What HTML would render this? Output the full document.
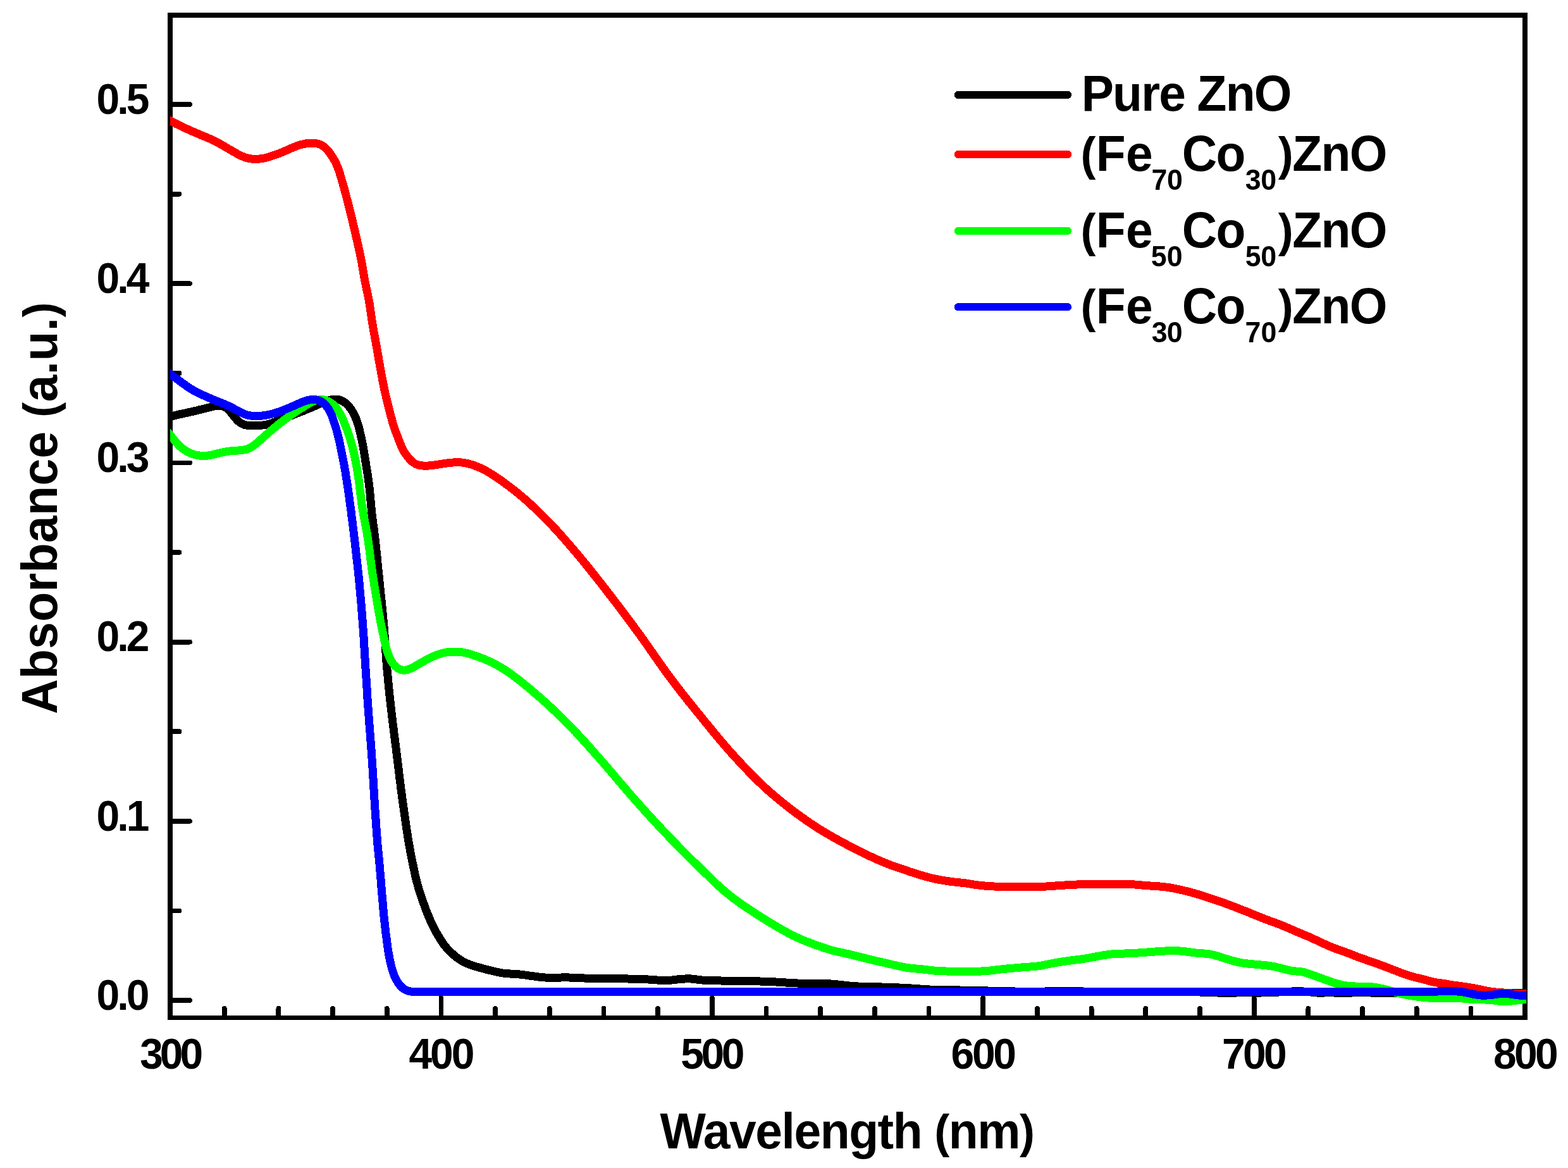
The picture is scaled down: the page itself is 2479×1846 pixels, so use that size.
<!DOCTYPE html>
<html lang="en"><head><meta charset="utf-8"><title>UV-Vis absorbance spectra</title>
<style>html,body{margin:0;padding:0;background:#fff;}body{width:2479px;height:1846px;overflow:hidden;}svg{display:block;}text{font-family:'Liberation Sans', Arial, Helvetica, sans-serif;fill:#000;}</style>
</head><body>
<svg xmlns="http://www.w3.org/2000/svg" width="2479" height="1846" viewBox="0 0 2479 1846">
<rect x="0" y="0" width="2479" height="1846" fill="#fff"/>
<g id="axes" stroke="#000" fill="none" stroke-width="7.6" shape-rendering="crispEdges">
<rect x="269.0" y="24.0" width="2142.10" height="1584.40" stroke-linejoin="miter"/>
</g>
<g id="ticks" stroke="#000" stroke-width="7.8" stroke-linecap="round" shape-rendering="crispEdges">
<line x1="354.68" y1="1606.9" x2="354.68" y2="1593.90"/>
<line x1="440.37" y1="1606.9" x2="440.37" y2="1593.90"/>
<line x1="526.05" y1="1606.9" x2="526.05" y2="1593.90"/>
<line x1="611.74" y1="1606.9" x2="611.74" y2="1593.90"/>
<line x1="697.42" y1="1606.9" x2="697.42" y2="1577.40"/>
<line x1="783.10" y1="1606.9" x2="783.10" y2="1593.90"/>
<line x1="868.79" y1="1606.9" x2="868.79" y2="1593.90"/>
<line x1="954.47" y1="1606.9" x2="954.47" y2="1593.90"/>
<line x1="1040.16" y1="1606.9" x2="1040.16" y2="1593.90"/>
<line x1="1125.84" y1="1606.9" x2="1125.84" y2="1577.40"/>
<line x1="1211.52" y1="1606.9" x2="1211.52" y2="1593.90"/>
<line x1="1297.21" y1="1606.9" x2="1297.21" y2="1593.90"/>
<line x1="1382.89" y1="1606.9" x2="1382.89" y2="1593.90"/>
<line x1="1468.58" y1="1606.9" x2="1468.58" y2="1593.90"/>
<line x1="1554.26" y1="1606.9" x2="1554.26" y2="1577.40"/>
<line x1="1639.94" y1="1606.9" x2="1639.94" y2="1593.90"/>
<line x1="1725.63" y1="1606.9" x2="1725.63" y2="1593.90"/>
<line x1="1811.31" y1="1606.9" x2="1811.31" y2="1593.90"/>
<line x1="1897.00" y1="1606.9" x2="1897.00" y2="1593.90"/>
<line x1="1982.68" y1="1606.9" x2="1982.68" y2="1577.40"/>
<line x1="2068.36" y1="1606.9" x2="2068.36" y2="1593.90"/>
<line x1="2154.05" y1="1606.9" x2="2154.05" y2="1593.90"/>
<line x1="2239.73" y1="1606.9" x2="2239.73" y2="1593.90"/>
<line x1="2325.42" y1="1606.9" x2="2325.42" y2="1593.90"/>
<line x1="270.5" y1="1581.00" x2="300.00" y2="1581.00"/>
<line x1="270.5" y1="1439.40" x2="283.50" y2="1439.40"/>
<line x1="270.5" y1="1297.80" x2="300.00" y2="1297.80"/>
<line x1="270.5" y1="1156.20" x2="283.50" y2="1156.20"/>
<line x1="270.5" y1="1014.60" x2="300.00" y2="1014.60"/>
<line x1="270.5" y1="873.00" x2="283.50" y2="873.00"/>
<line x1="270.5" y1="731.40" x2="300.00" y2="731.40"/>
<line x1="270.5" y1="589.80" x2="283.50" y2="589.80"/>
<line x1="270.5" y1="448.20" x2="300.00" y2="448.20"/>
<line x1="270.5" y1="306.60" x2="283.50" y2="306.60"/>
<line x1="270.5" y1="165.00" x2="300.00" y2="165.00"/>
</g>
<clipPath id="plotclip"><rect x="269.0" y="24.0" width="2144.20" height="1588.40"/></clipPath>
<g id="curves" fill="none" stroke-width="13.0" stroke-linejoin="round" stroke-linecap="butt" clip-path="url(#plotclip)" shape-rendering="crispEdges">
<path d="M255.0,661.7 L258.5,660.9 L261.9,660.1 L265.2,659.3 L268.5,658.5 L271.7,657.7 L274.9,657.0 L278.0,656.3 L281.1,655.5 L284.1,654.8 L287.2,654.2 L290.2,653.5 L293.3,652.8 L296.3,652.2 L299.3,651.5 L302.4,650.8 L305.4,650.1 L308.5,649.4 L311.6,648.7 L314.6,647.9 L317.7,647.2 L320.8,646.4 L323.9,645.7 L327.0,644.9 L330.2,644.1 L333.4,643.2 L336.8,642.3 L340.2,641.6 L343.7,641.1 L347.1,641.0 L350.5,641.4 L353.8,642.5 L356.8,644.1 L359.5,646.1 L362.0,648.4 L364.2,650.8 L366.3,653.3 L368.3,655.8 L370.2,658.4 L372.3,660.9 L374.5,663.5 L377.1,665.9 L379.9,668.2 L383.1,670.0 L386.6,671.4 L390.3,672.2 L394.0,672.5 L397.8,672.6 L401.6,672.5 L405.3,672.4 L409.0,672.3 L412.6,672.2 L416.1,671.9 L419.5,671.5 L422.8,670.8 L425.9,669.9 L429.1,668.9 L432.2,667.7 L435.3,666.5 L438.4,665.3 L441.5,664.0 L444.6,662.8 L447.6,661.7 L450.6,660.5 L453.7,659.4 L456.7,658.2 L459.7,657.1 L462.7,655.9 L465.8,654.7 L468.8,653.5 L471.9,652.3 L474.9,651.1 L478.0,649.9 L481.1,648.7 L484.2,647.4 L487.3,646.2 L490.3,644.9 L493.3,643.7 L496.3,642.3 L499.3,641.0 L502.3,639.6 L505.4,638.1 L508.6,636.7 L511.9,635.4 L515.2,634.1 L518.4,633.0 L521.6,632.2 L524.7,631.5 L527.9,631.1 L531.0,631.1 L534.1,631.4 L537.2,632.1 L540.1,633.2 L542.9,634.7 L545.5,636.5 L547.9,638.4 L550.1,640.6 L552.2,643.0 L554.1,645.5 L555.9,648.2 L557.6,651.0 L559.2,654.0 L560.8,657.1 L562.2,660.2 L563.4,663.4 L564.6,666.4 L565.6,669.5 L566.5,672.6 L567.4,675.7 L568.2,678.9 L569.0,682.2 L569.7,685.4 L570.5,688.7 L571.2,692.0 L571.9,695.2 L572.5,698.4 L573.2,701.6 L573.8,704.7 L574.4,707.9 L574.9,710.9 L575.5,714.0 L576.0,717.1 L576.5,720.1 L576.9,723.2 L577.4,726.2 L577.9,729.3 L578.4,732.3 L578.9,735.3 L579.3,738.3 L579.8,741.3 L580.3,744.3 L580.8,747.2 L581.2,750.3 L581.7,753.3 L582.2,756.3 L582.6,759.4 L583.0,762.5 L583.4,765.6 L583.8,768.6 L584.2,771.7 L584.5,774.8 L584.8,777.8 L585.1,780.9 L585.4,784.1 L585.7,787.2 L585.9,790.4 L586.2,793.5 L586.5,796.6 L586.7,799.7 L587.0,802.7 L587.3,805.7 L587.6,808.7 L587.9,811.6 L588.2,814.6 L588.6,817.7 L589.0,820.7 L589.4,823.7 L589.8,826.8 L590.3,829.9 L590.7,833.0 L591.2,836.1 L591.5,839.1 L591.9,842.0 L592.2,844.7 L592.6,847.5 L592.9,850.2 L593.2,852.9 L593.5,855.7 L593.8,858.6 L594.1,861.6 L594.4,864.6 L594.7,867.7 L595.1,870.9 L595.4,874.1 L595.7,877.3 L596.1,880.5 L596.4,883.8 L596.7,887.0 L597.0,890.3 L597.4,893.6 L597.7,896.8 L598.0,900.0 L598.3,903.2 L598.7,906.3 L599.0,909.5 L599.3,912.5 L599.6,915.6 L599.9,918.6 L600.2,921.7 L600.6,924.7 L600.9,927.7 L601.2,930.8 L601.5,933.8 L601.8,936.8 L602.1,939.9 L602.5,942.9 L602.8,945.9 L603.1,948.9 L603.4,952.0 L603.7,955.0 L604.0,958.0 L604.3,961.1 L604.6,964.1 L604.9,967.1 L605.2,970.2 L605.5,973.2 L605.8,976.2 L606.0,979.2 L606.3,982.3 L606.6,985.3 L606.8,988.3 L607.1,991.4 L607.3,994.4 L607.6,997.5 L607.8,1000.5 L608.0,1003.6 L608.3,1006.6 L608.5,1009.7 L608.7,1012.8 L608.9,1015.8 L609.1,1018.9 L609.3,1021.9 L609.5,1025.0 L609.7,1028.0 L610.0,1031.1 L610.2,1034.1 L610.4,1037.1 L610.6,1040.1 L610.8,1043.1 L611.0,1046.1 L611.3,1049.1 L611.5,1052.1 L611.8,1055.1 L612.0,1058.1 L612.3,1061.2 L612.6,1064.3 L612.9,1067.4 L613.2,1070.5 L613.4,1073.6 L613.7,1076.7 L614.0,1079.8 L614.3,1082.9 L614.6,1085.9 L615.0,1089.0 L615.3,1092.0 L615.6,1095.1 L615.9,1098.1 L616.2,1101.2 L616.6,1104.3 L616.9,1107.4 L617.2,1110.5 L617.6,1113.6 L617.9,1116.7 L618.3,1119.8 L618.6,1122.8 L619.0,1125.8 L619.3,1128.8 L619.7,1131.8 L620.0,1134.8 L620.4,1137.8 L620.8,1140.8 L621.1,1143.8 L621.5,1146.8 L621.9,1149.9 L622.3,1152.9 L622.7,1156.0 L623.0,1159.0 L623.4,1162.1 L623.8,1165.1 L624.2,1168.2 L624.6,1171.3 L625.0,1174.3 L625.4,1177.4 L625.8,1180.4 L626.2,1183.5 L626.5,1186.5 L626.9,1189.6 L627.3,1192.6 L627.7,1195.6 L628.0,1198.7 L628.4,1201.7 L628.8,1204.7 L629.2,1207.7 L629.5,1210.8 L629.9,1213.8 L630.3,1216.8 L630.6,1219.9 L631.0,1222.9 L631.4,1225.9 L631.7,1229.0 L632.1,1232.0 L632.5,1235.0 L632.9,1238.0 L633.2,1241.1 L633.6,1244.1 L634.0,1247.1 L634.4,1250.2 L634.8,1253.2 L635.2,1256.2 L635.6,1259.3 L636.0,1262.3 L636.4,1265.4 L636.8,1268.5 L637.3,1271.6 L637.7,1274.8 L638.2,1278.0 L638.6,1281.2 L639.1,1284.5 L639.6,1287.8 L640.1,1291.1 L640.5,1294.4 L641.0,1297.7 L641.5,1300.9 L642.0,1304.2 L642.5,1307.4 L642.9,1310.5 L643.4,1313.6 L643.9,1316.7 L644.3,1319.6 L644.8,1322.5 L645.2,1325.3 L645.7,1328.0 L646.1,1330.7 L646.5,1333.3 L647.0,1336.0 L647.5,1338.8 L648.0,1341.8 L648.6,1344.7 L649.1,1347.8 L649.7,1350.8 L650.3,1353.8 L650.9,1356.8 L651.5,1359.7 L652.1,1362.7 L652.7,1365.6 L653.3,1368.5 L653.9,1371.5 L654.6,1374.5 L655.2,1377.6 L655.9,1380.7 L656.5,1383.8 L657.3,1386.9 L658.0,1390.0 L658.8,1393.1 L659.6,1396.1 L660.4,1399.2 L661.3,1402.3 L662.3,1405.5 L663.2,1408.6 L664.2,1411.7 L665.3,1414.8 L666.3,1417.9 L667.3,1420.9 L668.3,1423.8 L669.3,1426.7 L670.4,1429.6 L671.4,1432.5 L672.5,1435.5 L673.7,1438.5 L674.8,1441.4 L676.0,1444.4 L677.2,1447.3 L678.5,1450.3 L679.7,1453.3 L681.0,1456.2 L682.3,1459.2 L683.7,1462.2 L685.1,1465.1 L686.6,1468.0 L688.1,1470.8 L689.7,1473.6 L691.3,1476.3 L692.9,1478.9 L694.5,1481.6 L696.1,1484.2 L697.7,1486.8 L699.4,1489.4 L701.1,1492.0 L703.0,1494.5 L705.1,1497.0 L707.2,1499.5 L709.5,1501.9 L711.9,1504.3 L714.4,1506.6 L716.9,1508.9 L719.5,1511.1 L722.2,1513.2 L724.9,1515.1 L727.6,1517.0 L730.4,1518.7 L733.2,1520.2 L736.1,1521.7 L739.0,1523.0 L742.0,1524.2 L745.0,1525.3 L748.0,1526.3 L751.1,1527.3 L754.2,1528.2 L757.4,1529.1 L760.6,1530.0 L763.8,1530.8 L767.1,1531.7 L770.2,1532.5 L773.3,1533.3 L776.4,1534.0 L779.4,1534.8 L782.4,1535.5 L785.3,1536.2 L788.3,1536.8 L791.2,1537.4 L794.1,1537.9 L797.1,1538.3 L800.0,1538.6 L803.0,1538.8 L806.1,1539.0 L809.1,1539.2 L812.2,1539.3 L815.2,1539.5 L818.3,1539.8 L821.4,1540.0 L824.5,1540.3 L827.5,1540.7 L830.6,1541.1 L833.7,1541.5 L836.7,1542.0 L839.7,1542.4 L842.7,1542.8 L845.6,1543.2 L848.6,1543.6 L851.5,1544.0 L854.5,1544.3 L857.4,1544.6 L860.3,1544.9 L863.3,1545.1 L866.2,1545.2 L869.2,1545.3 L872.1,1545.3 L875.1,1545.3 L878.2,1545.2 L881.2,1545.1 L884.3,1545.0 L887.3,1545.0 L890.4,1544.9 L893.5,1544.9 L896.5,1544.9 L899.6,1545.0 L902.7,1545.1 L905.7,1545.2 L908.7,1545.4 L911.7,1545.5 L914.8,1545.6 L917.8,1545.8 L920.9,1545.9 L924.0,1546.0 L927.1,1546.1 L930.3,1546.2 L933.5,1546.3 L936.7,1546.4 L939.9,1546.4 L943.0,1546.4 L946.2,1546.3 L949.4,1546.3 L952.6,1546.2 L955.8,1546.1 L958.9,1546.1 L962.1,1546.1 L965.2,1546.1 L968.3,1546.1 L971.3,1546.2 L974.4,1546.3 L977.5,1546.4 L980.6,1546.5 L983.7,1546.6 L986.9,1546.7 L990.0,1546.9 L993.2,1547.0 L996.3,1547.1 L999.4,1547.2 L1002.6,1547.3 L1005.7,1547.4 L1008.9,1547.5 L1012.0,1547.5 L1015.1,1547.6 L1018.2,1547.7 L1021.3,1547.8 L1024.3,1548.0 L1027.4,1548.1 L1030.5,1548.3 L1033.7,1548.6 L1036.9,1548.8 L1040.2,1549.1 L1043.4,1549.4 L1046.6,1549.6 L1049.7,1549.7 L1052.8,1549.7 L1055.9,1549.5 L1059.0,1549.3 L1062.1,1549.0 L1065.2,1548.6 L1068.4,1548.3 L1071.6,1547.9 L1074.8,1547.6 L1078.0,1547.3 L1081.3,1547.1 L1084.5,1546.9 L1087.7,1546.9 L1090.8,1546.9 L1093.9,1547.1 L1096.9,1547.4 L1099.8,1547.8 L1102.8,1548.2 L1105.8,1548.6 L1108.8,1548.9 L1111.7,1549.2 L1114.8,1549.4 L1117.8,1549.5 L1120.9,1549.6 L1124.1,1549.7 L1127.3,1549.8 L1130.5,1549.8 L1133.7,1549.9 L1136.8,1549.9 L1139.9,1550.0 L1143.1,1550.0 L1146.2,1550.1 L1149.3,1550.2 L1152.5,1550.2 L1155.6,1550.3 L1158.8,1550.4 L1161.9,1550.4 L1165.0,1550.5 L1168.0,1550.5 L1171.1,1550.6 L1174.1,1550.6 L1177.2,1550.6 L1180.3,1550.6 L1183.4,1550.7 L1186.5,1550.7 L1189.7,1550.7 L1192.8,1550.8 L1196.0,1550.9 L1199.1,1550.9 L1202.2,1551.0 L1205.4,1551.1 L1208.5,1551.2 L1211.7,1551.3 L1214.8,1551.4 L1217.9,1551.6 L1221.0,1551.7 L1224.1,1551.9 L1227.1,1552.0 L1230.1,1552.2 L1233.2,1552.4 L1236.3,1552.6 L1239.4,1552.8 L1242.5,1553.0 L1245.6,1553.2 L1248.8,1553.5 L1251.9,1553.6 L1254.9,1553.8 L1258.0,1553.9 L1261.0,1554.0 L1264.0,1554.1 L1267.0,1554.1 L1270.1,1554.1 L1273.2,1554.1 L1276.4,1554.1 L1279.6,1554.1 L1282.8,1554.1 L1285.9,1554.1 L1289.0,1554.1 L1292.0,1554.2 L1295.1,1554.2 L1298.1,1554.3 L1301.1,1554.4 L1304.2,1554.5 L1307.4,1554.6 L1310.5,1554.8 L1313.7,1555.0 L1316.8,1555.2 L1319.9,1555.5 L1323.0,1555.8 L1326.1,1556.1 L1329.2,1556.5 L1332.4,1556.9 L1335.5,1557.2 L1338.7,1557.6 L1341.8,1557.9 L1344.9,1558.2 L1347.9,1558.5 L1350.9,1558.7 L1353.8,1558.8 L1356.7,1559.0 L1359.6,1559.1 L1362.6,1559.2 L1365.7,1559.3 L1368.8,1559.3 L1371.9,1559.4 L1375.1,1559.5 L1378.2,1559.6 L1381.4,1559.6 L1384.5,1559.7 L1387.6,1559.8 L1390.7,1559.9 L1393.7,1560.0 L1396.8,1560.1 L1399.9,1560.2 L1402.9,1560.3 L1406.0,1560.4 L1409.1,1560.5 L1412.1,1560.6 L1415.2,1560.7 L1418.2,1560.8 L1421.2,1561.0 L1424.2,1561.1 L1427.1,1561.2 L1430.1,1561.3 L1433.0,1561.5 L1436.0,1561.7 L1439.0,1561.9 L1442.0,1562.1 L1445.0,1562.3 L1448.1,1562.5 L1451.1,1562.8 L1454.1,1563.0 L1457.2,1563.2 L1460.3,1563.5 L1463.3,1563.7 L1466.4,1563.8 L1469.3,1564.0 L1472.2,1564.1 L1475.1,1564.2 L1477.9,1564.3 L1480.8,1564.4 L1483.8,1564.4 L1486.8,1564.5 L1489.9,1564.6 L1493.0,1564.6 L1496.1,1564.7 L1499.3,1564.7 L1502.4,1564.8 L1505.6,1564.8 L1508.8,1564.8 L1511.9,1564.9 L1515.1,1564.9 L1518.1,1565.0 L1521.2,1565.0 L1524.2,1565.1 L1527.3,1565.2 L1530.4,1565.2 L1533.5,1565.3 L1536.6,1565.4 L1539.7,1565.4 L1542.9,1565.5 L1546.0,1565.6 L1549.1,1565.7 L1552.2,1565.7 L1555.3,1565.8 L1558.4,1565.9 L1561.4,1566.0 L1564.5,1566.0 L1567.5,1566.1 L1570.6,1566.2 L1573.6,1566.3 L1576.7,1566.3 L1579.8,1566.4 L1583.0,1566.5 L1586.1,1566.5 L1589.3,1566.6 L1592.5,1566.7 L1595.7,1566.8 L1598.9,1566.8 L1602.1,1566.9 L1605.3,1567.0 L1608.5,1567.1 L1611.6,1567.1 L1614.7,1567.2 L1617.8,1567.2 L1620.9,1567.2 L1624.1,1567.3 L1627.2,1567.3 L1630.4,1567.3 L1633.6,1567.3 L1636.8,1567.2 L1640.0,1567.2 L1643.2,1567.1 L1646.4,1567.1 L1649.5,1567.0 L1652.7,1567.0 L1655.8,1566.9 L1659.0,1566.9 L1662.2,1566.8 L1665.3,1566.8 L1668.6,1566.8 L1671.8,1566.8 L1675.0,1566.8 L1678.3,1566.7 L1681.5,1566.7 L1684.7,1566.7 L1687.9,1566.7 L1691.1,1566.7 L1694.3,1566.7 L1697.5,1566.8 L1700.6,1566.8 L1703.7,1566.8 L1706.7,1566.9 L1709.7,1566.9 L1712.7,1567.0 L1715.7,1567.1 L1718.9,1567.2 L1722.0,1567.3 L1725.2,1567.3 L1728.4,1567.4 L1731.4,1567.5 L1734.2,1567.5 L1736.7,1567.5 L1739.2,1567.6 L1741.5,1567.6 L1743.9,1567.6 L1746.4,1567.6 L1749.0,1567.6 L1751.7,1567.6 L1754.5,1567.7 L1757.4,1567.7 L1760.4,1567.7 L1763.5,1567.7 L1766.7,1567.7 L1769.9,1567.7 L1773.2,1567.7 L1776.6,1567.7 L1780.0,1567.7 L1783.5,1567.7 L1787.0,1567.7 L1790.6,1567.7 L1794.2,1567.7 L1797.8,1567.8 L1801.5,1567.8 L1805.1,1567.8 L1808.8,1567.8 L1812.5,1567.8 L1816.2,1567.8 L1819.9,1567.8 L1823.6,1567.8 L1827.3,1567.8 L1831.0,1567.8 L1834.6,1567.8 L1838.3,1567.8 L1841.8,1567.8 L1845.4,1567.8 L1848.9,1567.8 L1852.3,1567.8 L1855.7,1567.8 L1859.1,1567.8 L1862.3,1567.8 L1865.5,1567.8 L1868.6,1567.8 L1871.7,1567.8 L1874.6,1567.8 L1877.5,1567.8 L1880.2,1567.9 L1882.9,1567.9 L1885.4,1567.9 L1887.8,1567.9 L1890.1,1567.9 L1892.3,1567.9 L1894.5,1567.9 L1896.7,1568.0 L1899.1,1568.0 L1901.7,1568.0 L1904.7,1568.1 L1907.7,1568.1 L1910.8,1568.2 L1914.0,1568.3 L1917.1,1568.5 L1920.3,1568.6 L1923.5,1568.8 L1926.7,1569.1 L1930.0,1569.3 L1933.3,1569.5 L1936.7,1569.7 L1940.0,1569.7 L1943.3,1569.6 L1946.6,1569.5 L1949.9,1569.3 L1953.2,1569.1 L1956.5,1568.9 L1959.7,1568.7 L1962.9,1568.6 L1966.1,1568.6 L1969.2,1568.7 L1972.4,1568.8 L1975.5,1568.9 L1978.7,1569.0 L1981.8,1569.1 L1985.0,1569.1 L1988.2,1569.1 L1991.3,1569.1 L1994.5,1569.0 L1997.6,1568.9 L2000.8,1568.8 L2003.9,1568.7 L2007.1,1568.6 L2010.3,1568.5 L2013.5,1568.3 L2016.7,1568.2 L2020.0,1568.1 L2023.3,1567.9 L2026.5,1567.8 L2029.8,1567.6 L2033.0,1567.5 L2036.3,1567.3 L2039.5,1567.2 L2042.7,1567.0 L2045.8,1566.9 L2049.0,1566.8 L2052.1,1566.8 L2055.1,1566.8 L2058.1,1566.9 L2061.2,1567.0 L2064.1,1567.2 L2067.1,1567.4 L2070.1,1567.7 L2073.0,1568.1 L2076.0,1568.4 L2079.0,1568.7 L2082.0,1569.0 L2084.9,1569.1 L2087.9,1569.2 L2090.9,1569.1 L2093.8,1569.0 L2096.9,1568.8 L2099.9,1568.8 L2102.9,1568.8 L2106.0,1568.8 L2109.2,1569.0 L2112.3,1569.1 L2115.5,1569.3 L2118.7,1569.5 L2121.9,1569.6 L2125.1,1569.6 L2128.4,1569.5 L2131.6,1569.4 L2134.9,1569.2 L2138.1,1569.0 L2141.4,1568.8 L2144.6,1568.7 L2147.8,1568.6 L2151.0,1568.6 L2154.2,1568.6 L2157.4,1568.7 L2160.6,1568.8 L2163.9,1568.9 L2167.2,1569.0 L2170.5,1569.2 L2173.7,1569.3 L2176.9,1569.4 L2180.1,1569.5 L2183.3,1569.6 L2186.5,1569.7 L2189.6,1569.8 L2192.7,1569.9 L2195.8,1569.9 L2198.8,1569.9 L2201.9,1569.9 L2204.8,1569.9 L2207.7,1569.8 L2210.6,1569.7 L2213.5,1569.5 L2216.5,1569.3 L2219.5,1569.1 L2222.5,1568.9 L2225.6,1568.7 L2228.5,1568.6 L2231.1,1568.5 L2233.6,1568.4 L2235.9,1568.4 L2238.1,1568.3 L2240.4,1568.3 L2242.8,1568.3 L2245.4,1568.3 L2248.0,1568.2 L2250.8,1568.2 L2253.6,1568.2 L2256.5,1568.2 L2259.5,1568.2 L2262.6,1568.2 L2265.8,1568.2 L2269.1,1568.2 L2272.4,1568.2 L2275.7,1568.2 L2279.2,1568.2 L2282.6,1568.2 L2286.2,1568.2 L2289.7,1568.2 L2293.3,1568.2 L2296.9,1568.2 L2300.5,1568.3 L2304.2,1568.3 L2307.9,1568.3 L2311.5,1568.3 L2315.2,1568.3 L2318.8,1568.4 L2322.5,1568.4 L2326.1,1568.4 L2329.7,1568.4 L2333.3,1568.5 L2336.8,1568.5 L2340.3,1568.5 L2343.7,1568.6 L2347.1,1568.6 L2350.5,1568.6 L2353.8,1568.7 L2357.0,1568.7 L2360.1,1568.7 L2363.2,1568.8 L2366.1,1568.8 L2369.0,1568.8 L2371.8,1568.9 L2374.5,1568.9 L2377.1,1569.0 L2379.6,1569.0 L2381.9,1569.0 L2384.1,1569.1 L2386.3,1569.1 L2388.6,1569.1 L2391.0,1569.2 L2393.7,1569.3 L2396.6,1569.3 L2399.7,1569.4 L2402.7,1569.5 L2405.8,1569.7 L2408.8,1569.8 L2411.7,1569.9 L2414.7,1570.0 L2417.7,1570.1 L2420.8,1570.2 L2424.0,1570.4" stroke="#000000"/>
<path d="M255.0,183.8 L257.8,185.2 L260.6,186.6 L263.3,188.0 L266.2,189.5 L269.0,190.9 L271.9,192.4 L274.9,193.9 L277.8,195.4 L280.9,196.9 L283.9,198.4 L286.9,199.9 L290.0,201.3 L293.0,202.7 L296.1,204.1 L299.1,205.4 L302.2,206.8 L305.3,208.1 L308.4,209.5 L311.4,210.8 L314.5,212.1 L317.5,213.3 L320.5,214.6 L323.5,215.8 L326.4,217.0 L329.3,218.3 L332.2,219.5 L335.1,220.8 L337.9,222.2 L340.7,223.6 L343.4,225.0 L346.2,226.5 L348.8,228.0 L351.5,229.5 L354.1,231.0 L356.7,232.5 L359.3,234.0 L362.0,235.6 L364.6,237.1 L367.3,238.7 L370.0,240.3 L372.7,241.8 L375.5,243.3 L378.2,244.8 L381.0,246.1 L383.9,247.4 L386.8,248.5 L389.8,249.5 L392.8,250.3 L395.9,250.8 L399.1,251.2 L402.4,251.3 L405.7,251.4 L409.2,251.2 L412.7,250.8 L416.2,250.3 L419.7,249.5 L423.1,248.6 L426.4,247.5 L429.6,246.5 L432.7,245.5 L435.7,244.5 L438.6,243.5 L441.6,242.4 L444.6,241.2 L447.6,239.9 L450.7,238.6 L453.7,237.2 L456.7,235.9 L459.7,234.6 L462.7,233.3 L465.7,232.0 L468.7,230.9 L471.8,229.8 L474.9,228.8 L478.2,228.0 L481.5,227.3 L484.8,226.7 L488.0,226.3 L491.1,226.0 L494.2,226.0 L497.2,226.2 L500.2,226.7 L503.1,227.4 L506.0,228.4 L508.8,229.8 L511.5,231.4 L514.0,233.4 L516.5,235.8 L518.7,238.3 L520.8,241.0 L522.7,243.7 L524.5,246.3 L526.1,249.0 L527.7,251.6 L529.2,254.3 L530.6,257.0 L531.9,259.8 L533.1,262.6 L534.3,265.4 L535.3,268.3 L536.3,271.2 L537.3,274.2 L538.2,277.3 L539.1,280.4 L540.0,283.5 L540.9,286.5 L541.8,289.4 L542.6,292.3 L543.4,295.1 L544.2,297.9 L544.9,300.8 L545.7,303.7 L546.5,306.6 L547.3,309.7 L548.1,312.7 L548.9,315.9 L549.7,319.0 L550.6,322.2 L551.4,325.4 L552.2,328.6 L553.0,331.8 L553.8,335.0 L554.6,338.2 L555.3,341.3 L556.1,344.4 L556.8,347.5 L557.6,350.5 L558.3,353.6 L559.0,356.8 L559.8,359.9 L560.5,363.2 L561.3,366.4 L562.1,369.7 L562.8,372.9 L563.6,376.2 L564.3,379.5 L565.0,382.7 L565.8,385.9 L566.5,389.1 L567.2,392.2 L567.8,395.2 L568.5,398.2 L569.1,401.1 L569.7,403.9 L570.3,406.6 L570.8,409.4 L571.4,412.2 L571.9,415.1 L572.5,418.1 L573.0,421.2 L573.5,424.4 L574.0,427.5 L574.5,430.6 L575.0,433.7 L575.5,436.7 L576.0,439.7 L576.6,442.7 L577.2,445.7 L577.8,448.7 L578.4,451.7 L579.1,454.7 L579.8,457.8 L580.4,460.9 L581.1,464.0 L581.7,467.1 L582.4,470.1 L583.0,473.2 L583.5,476.3 L584.1,479.3 L584.6,482.3 L585.0,485.4 L585.5,488.4 L585.9,491.4 L586.4,494.4 L586.8,497.5 L587.2,500.5 L587.6,503.5 L588.1,506.6 L588.6,509.6 L589.0,512.6 L589.5,515.6 L590.1,518.7 L590.6,521.7 L591.1,524.7 L591.7,527.8 L592.3,530.8 L592.8,533.8 L593.4,536.9 L593.9,539.9 L594.5,542.9 L595.0,546.0 L595.6,549.0 L596.1,552.0 L596.6,555.1 L597.2,558.1 L597.7,561.1 L598.2,564.1 L598.7,567.2 L599.2,570.2 L599.8,573.2 L600.3,576.2 L600.8,579.3 L601.4,582.3 L601.9,585.3 L602.5,588.3 L603.0,591.4 L603.6,594.4 L604.1,597.4 L604.7,600.4 L605.3,603.5 L605.9,606.5 L606.5,609.5 L607.1,612.5 L607.7,615.6 L608.4,618.6 L609.1,621.7 L609.8,624.8 L610.5,627.9 L611.2,631.0 L612.0,634.2 L612.8,637.3 L613.6,640.5 L614.4,643.5 L615.1,646.6 L615.9,649.5 L616.7,652.5 L617.4,655.4 L618.2,658.3 L619.0,661.3 L619.8,664.3 L620.6,667.3 L621.5,670.3 L622.4,673.2 L623.4,676.2 L624.4,679.2 L625.5,682.2 L626.7,685.2 L627.9,688.2 L629.0,691.2 L630.2,694.3 L631.4,697.3 L632.6,700.4 L633.8,703.5 L635.0,706.5 L636.4,709.4 L637.9,712.2 L639.5,715.0 L641.3,717.6 L643.2,720.2 L645.2,722.7 L647.3,725.2 L649.5,727.5 L651.8,729.7 L654.3,731.6 L657.1,733.2 L660.1,734.5 L663.2,735.3 L666.5,735.8 L669.7,736.1 L672.9,736.1 L676.0,736.1 L679.1,735.9 L682.2,735.6 L685.2,735.3 L688.3,734.8 L691.3,734.4 L694.4,733.9 L697.4,733.4 L700.4,732.9 L703.5,732.4 L706.6,732.0 L709.7,731.6 L712.8,731.3 L716.0,731.0 L719.2,730.8 L722.4,730.7 L725.6,730.7 L728.8,730.9 L731.9,731.2 L734.8,731.6 L737.8,732.2 L740.8,732.9 L743.8,733.8 L746.9,734.7 L750.1,735.8 L753.3,737.0 L756.3,738.2 L759.3,739.5 L762.1,740.8 L764.8,742.1 L767.4,743.5 L770.0,745.0 L772.6,746.5 L775.2,748.1 L777.9,749.7 L780.5,751.4 L783.2,753.2 L785.9,755.0 L788.6,756.9 L791.3,758.8 L794.1,760.7 L796.8,762.6 L799.4,764.6 L802.1,766.6 L804.7,768.5 L807.3,770.5 L809.8,772.4 L812.2,774.3 L814.6,776.2 L817.0,778.1 L819.3,780.0 L821.6,781.9 L823.9,783.8 L826.2,785.8 L828.5,787.7 L830.8,789.7 L833.1,791.7 L835.3,793.8 L837.6,795.8 L839.9,797.9 L842.1,800.0 L844.4,802.1 L846.6,804.2 L848.9,806.4 L851.1,808.5 L853.3,810.7 L855.5,812.8 L857.7,815.0 L859.9,817.2 L862.1,819.3 L864.2,821.5 L866.4,823.7 L868.5,825.9 L870.6,828.1 L872.7,830.4 L874.8,832.6 L876.9,834.9 L879.0,837.1 L881.1,839.4 L883.2,841.7 L885.3,844.0 L887.3,846.4 L889.4,848.7 L891.5,851.1 L893.6,853.4 L895.6,855.8 L897.7,858.2 L899.7,860.5 L901.8,862.9 L903.8,865.3 L905.9,867.7 L907.9,870.1 L909.9,872.4 L911.9,874.8 L913.9,877.1 L915.8,879.5 L917.8,881.8 L919.7,884.1 L921.7,886.5 L923.6,888.8 L925.5,891.2 L927.5,893.6 L929.4,896.0 L931.3,898.4 L933.2,900.8 L935.2,903.2 L937.1,905.6 L939.0,908.0 L940.9,910.4 L942.8,912.8 L944.7,915.3 L946.7,917.7 L948.6,920.1 L950.5,922.6 L952.4,925.0 L954.3,927.5 L956.2,929.9 L958.1,932.3 L960.0,934.8 L961.9,937.2 L963.7,939.6 L965.6,942.0 L967.5,944.5 L969.3,946.9 L971.2,949.3 L973.1,951.8 L974.9,954.2 L976.8,956.6 L978.6,959.1 L980.5,961.5 L982.3,964.0 L984.2,966.4 L986.0,968.9 L987.9,971.4 L989.7,973.8 L991.6,976.3 L993.4,978.8 L995.3,981.3 L997.1,983.7 L999.0,986.2 L1000.8,988.7 L1002.6,991.2 L1004.5,993.7 L1006.3,996.2 L1008.1,998.7 L1010.0,1001.2 L1011.8,1003.7 L1013.6,1006.2 L1015.4,1008.7 L1017.2,1011.2 L1019.0,1013.7 L1020.7,1016.2 L1022.5,1018.7 L1024.3,1021.3 L1026.1,1023.8 L1027.9,1026.4 L1029.6,1028.9 L1031.4,1031.4 L1033.2,1034.0 L1035.0,1036.5 L1036.7,1039.1 L1038.5,1041.6 L1040.3,1044.2 L1042.1,1046.7 L1043.8,1049.2 L1045.6,1051.8 L1047.4,1054.3 L1049.2,1056.8 L1051.0,1059.3 L1052.8,1061.8 L1054.6,1064.2 L1056.4,1066.7 L1058.2,1069.2 L1060.1,1071.7 L1061.9,1074.1 L1063.8,1076.6 L1065.7,1079.1 L1067.6,1081.6 L1069.5,1084.1 L1071.4,1086.6 L1073.3,1089.0 L1075.2,1091.5 L1077.2,1094.0 L1079.1,1096.4 L1081.0,1098.8 L1082.9,1101.3 L1084.8,1103.7 L1086.8,1106.1 L1088.7,1108.6 L1090.6,1111.0 L1092.6,1113.4 L1094.5,1115.8 L1096.4,1118.2 L1098.4,1120.6 L1100.3,1123.0 L1102.2,1125.4 L1104.2,1127.7 L1106.1,1130.1 L1108.1,1132.5 L1110.0,1134.9 L1112.0,1137.3 L1114.0,1139.8 L1115.9,1142.2 L1117.9,1144.6 L1119.9,1147.0 L1121.8,1149.4 L1123.8,1151.8 L1125.8,1154.2 L1127.7,1156.6 L1129.7,1159.0 L1131.7,1161.4 L1133.7,1163.8 L1135.6,1166.1 L1137.6,1168.5 L1139.6,1170.9 L1141.6,1173.2 L1143.6,1175.6 L1145.6,1177.9 L1147.7,1180.3 L1149.7,1182.6 L1151.7,1184.9 L1153.8,1187.3 L1155.8,1189.6 L1157.9,1191.9 L1160.0,1194.1 L1162.0,1196.4 L1164.0,1198.6 L1166.1,1200.8 L1168.1,1203.0 L1170.2,1205.2 L1172.2,1207.4 L1174.3,1209.6 L1176.3,1211.8 L1178.4,1214.0 L1180.4,1216.1 L1182.5,1218.3 L1184.6,1220.5 L1186.7,1222.6 L1188.8,1224.8 L1190.9,1226.9 L1193.0,1229.0 L1195.2,1231.2 L1197.3,1233.3 L1199.5,1235.4 L1201.7,1237.5 L1203.9,1239.5 L1206.1,1241.6 L1208.3,1243.7 L1210.5,1245.7 L1212.8,1247.7 L1215.0,1249.8 L1217.3,1251.8 L1219.6,1253.8 L1221.9,1255.8 L1224.2,1257.7 L1226.5,1259.7 L1228.9,1261.7 L1231.3,1263.7 L1233.6,1265.6 L1236.0,1267.6 L1238.4,1269.5 L1240.9,1271.4 L1243.3,1273.4 L1245.7,1275.3 L1248.2,1277.2 L1250.6,1279.1 L1253.1,1280.9 L1255.5,1282.8 L1258.0,1284.6 L1260.5,1286.4 L1262.9,1288.2 L1265.4,1290.0 L1267.8,1291.8 L1270.3,1293.5 L1272.7,1295.2 L1275.2,1297.0 L1277.6,1298.7 L1280.1,1300.4 L1282.7,1302.1 L1285.2,1303.7 L1287.8,1305.4 L1290.4,1307.1 L1293.0,1308.8 L1295.6,1310.4 L1298.2,1312.0 L1300.8,1313.6 L1303.4,1315.1 L1306.0,1316.7 L1308.6,1318.2 L1311.2,1319.7 L1313.8,1321.2 L1316.4,1322.7 L1319.0,1324.2 L1321.6,1325.6 L1324.2,1327.1 L1326.9,1328.5 L1329.5,1329.9 L1332.1,1331.4 L1334.8,1332.8 L1337.4,1334.2 L1340.1,1335.6 L1342.8,1337.1 L1345.6,1338.5 L1348.3,1339.9 L1351.1,1341.4 L1354.0,1342.8 L1356.8,1344.2 L1359.7,1345.7 L1362.5,1347.1 L1365.4,1348.5 L1368.3,1349.8 L1371.1,1351.2 L1373.9,1352.5 L1376.7,1353.9 L1379.5,1355.1 L1382.2,1356.4 L1384.9,1357.6 L1387.6,1358.8 L1390.1,1360.0 L1392.7,1361.1 L1395.3,1362.2 L1398.0,1363.3 L1400.8,1364.4 L1403.7,1365.6 L1406.8,1366.8 L1409.9,1367.9 L1413.0,1369.0 L1416.0,1370.1 L1419.0,1371.1 L1421.9,1372.1 L1424.7,1373.0 L1427.5,1374.0 L1430.4,1374.9 L1433.3,1375.9 L1436.2,1376.9 L1439.1,1377.9 L1442.0,1378.8 L1445.0,1379.8 L1447.9,1380.7 L1450.8,1381.6 L1453.8,1382.6 L1456.9,1383.5 L1459.9,1384.4 L1463.0,1385.3 L1466.1,1386.1 L1469.2,1386.9 L1472.3,1387.7 L1475.4,1388.4 L1478.4,1389.1 L1481.4,1389.7 L1484.4,1390.3 L1487.5,1390.9 L1490.5,1391.4 L1493.5,1391.9 L1496.6,1392.4 L1499.7,1392.8 L1502.8,1393.3 L1505.9,1393.6 L1509.0,1394.0 L1512.2,1394.3 L1515.3,1394.7 L1518.4,1395.0 L1521.5,1395.3 L1524.7,1395.7 L1527.8,1396.1 L1531.0,1396.6 L1534.2,1397.1 L1537.4,1397.6 L1540.5,1398.1 L1543.7,1398.5 L1546.9,1399.0 L1550.0,1399.4 L1553.2,1399.7 L1556.3,1400.0 L1559.5,1400.3 L1562.6,1400.5 L1565.8,1400.7 L1569.0,1400.9 L1572.1,1401.0 L1575.1,1401.1 L1578.0,1401.2 L1581.0,1401.2 L1583.9,1401.3 L1586.9,1401.3 L1589.9,1401.3 L1593.0,1401.3 L1596.2,1401.2 L1599.3,1401.2 L1602.5,1401.2 L1605.6,1401.2 L1608.7,1401.2 L1611.7,1401.1 L1614.8,1401.1 L1617.9,1401.1 L1621.0,1401.1 L1624.1,1401.1 L1627.2,1401.2 L1630.4,1401.2 L1633.5,1401.2 L1636.5,1401.2 L1639.6,1401.2 L1642.5,1401.2 L1645.5,1401.2 L1648.4,1401.2 L1651.4,1401.1 L1654.5,1401.0 L1657.6,1400.8 L1660.9,1400.6 L1664.2,1400.3 L1667.4,1400.1 L1670.7,1399.8 L1674.0,1399.6 L1677.2,1399.4 L1680.5,1399.2 L1683.7,1399.0 L1686.9,1398.9 L1690.1,1398.7 L1693.3,1398.5 L1696.5,1398.4 L1699.7,1398.2 L1702.9,1398.0 L1706.1,1397.8 L1709.2,1397.6 L1712.4,1397.4 L1715.6,1397.3 L1718.7,1397.2 L1721.8,1397.1 L1724.9,1397.0 L1728.0,1397.0 L1731.1,1397.0 L1734.2,1397.0 L1737.3,1397.0 L1740.5,1397.0 L1743.6,1397.0 L1746.8,1397.1 L1750.0,1397.1 L1753.2,1397.1 L1756.5,1397.1 L1759.8,1397.0 L1763.1,1397.0 L1766.5,1397.0 L1769.7,1397.0 L1773.0,1397.0 L1776.2,1397.0 L1779.3,1397.1 L1782.4,1397.2 L1785.5,1397.4 L1788.6,1397.6 L1791.7,1397.8 L1794.8,1398.1 L1798.0,1398.4 L1801.1,1398.6 L1804.3,1398.9 L1807.5,1399.2 L1810.7,1399.4 L1813.9,1399.7 L1817.2,1399.9 L1820.5,1400.2 L1823.7,1400.4 L1826.9,1400.6 L1830.1,1400.8 L1833.4,1401.0 L1836.6,1401.3 L1839.8,1401.6 L1843.0,1402.0 L1846.2,1402.4 L1849.5,1402.9 L1852.7,1403.5 L1855.9,1404.1 L1859.2,1404.7 L1862.4,1405.4 L1865.6,1406.1 L1868.8,1406.9 L1872.0,1407.6 L1875.3,1408.4 L1878.5,1409.2 L1881.7,1410.0 L1884.9,1410.9 L1888.1,1411.8 L1891.3,1412.7 L1894.6,1413.7 L1897.8,1414.7 L1901.0,1415.7 L1904.3,1416.8 L1907.5,1417.8 L1910.7,1418.9 L1913.9,1419.9 L1917.1,1421.0 L1920.4,1422.1 L1923.6,1423.1 L1926.7,1424.2 L1929.8,1425.3 L1932.9,1426.3 L1935.9,1427.4 L1938.8,1428.5 L1941.6,1429.5 L1944.5,1430.6 L1947.3,1431.7 L1950.1,1432.7 L1952.9,1433.8 L1955.7,1434.9 L1958.6,1436.0 L1961.5,1437.1 L1964.3,1438.3 L1967.2,1439.4 L1970.1,1440.5 L1973.0,1441.7 L1975.8,1442.8 L1978.7,1444.0 L1981.6,1445.2 L1984.5,1446.4 L1987.4,1447.6 L1990.3,1448.8 L1993.2,1450.0 L1996.1,1451.1 L1999.0,1452.2 L2002.0,1453.3 L2004.9,1454.4 L2007.9,1455.5 L2010.9,1456.5 L2013.8,1457.6 L2016.8,1458.7 L2019.7,1459.8 L2022.7,1460.9 L2025.6,1462.1 L2028.5,1463.3 L2031.4,1464.5 L2034.4,1465.7 L2037.3,1467.0 L2040.3,1468.3 L2043.3,1469.6 L2046.2,1470.9 L2049.2,1472.2 L2052.2,1473.5 L2055.2,1474.7 L2058.2,1476.0 L2061.2,1477.2 L2064.2,1478.5 L2067.2,1479.7 L2070.2,1481.0 L2073.2,1482.3 L2076.2,1483.7 L2079.2,1485.1 L2082.2,1486.5 L2085.1,1487.9 L2088.1,1489.3 L2091.1,1490.7 L2094.1,1492.1 L2097.1,1493.4 L2100.1,1494.8 L2103.0,1496.1 L2106.0,1497.3 L2109.1,1498.5 L2112.3,1499.6 L2115.5,1500.7 L2118.7,1501.8 L2121.9,1502.9 L2124.9,1504.0 L2127.9,1505.1 L2130.8,1506.2 L2133.7,1507.3 L2136.6,1508.5 L2139.5,1509.7 L2142.5,1510.8 L2145.5,1512.0 L2148.7,1513.2 L2151.8,1514.3 L2155.0,1515.4 L2158.2,1516.5 L2161.4,1517.7 L2164.7,1518.8 L2167.9,1519.9 L2171.1,1521.1 L2174.3,1522.2 L2177.6,1523.3 L2180.7,1524.5 L2183.9,1525.6 L2187.0,1526.8 L2190.1,1527.9 L2193.1,1529.1 L2196.0,1530.2 L2198.8,1531.3 L2201.6,1532.4 L2204.5,1533.5 L2207.3,1534.6 L2210.3,1535.8 L2213.3,1536.9 L2216.3,1538.0 L2219.5,1539.1 L2222.7,1540.2 L2225.9,1541.3 L2229.1,1542.4 L2232.3,1543.3 L2235.4,1544.2 L2238.5,1545.0 L2241.6,1545.7 L2244.6,1546.4 L2247.6,1547.1 L2250.6,1547.8 L2253.7,1548.7 L2256.9,1549.6 L2260.1,1550.6 L2263.3,1551.4 L2266.6,1552.2 L2269.9,1552.8 L2273.2,1553.2 L2276.6,1553.6 L2279.9,1554.0 L2283.2,1554.5 L2286.6,1555.1 L2289.9,1555.7 L2293.4,1556.3 L2296.8,1556.9 L2300.2,1557.3 L2303.7,1557.8 L2307.0,1558.2 L2310.3,1558.6 L2313.5,1559.1 L2316.6,1559.6 L2319.7,1560.1 L2322.8,1560.6 L2326.0,1561.1 L2329.3,1561.7 L2332.6,1562.3 L2335.9,1563.0 L2339.4,1563.7 L2342.8,1564.4 L2346.3,1565.2 L2349.7,1565.9 L2353.1,1566.5 L2356.5,1567.0 L2359.9,1567.5 L2363.2,1567.9 L2366.5,1568.2 L2369.8,1568.5 L2373.1,1568.9 L2376.4,1569.1 L2379.7,1569.4 L2383.1,1569.6 L2386.4,1569.8 L2389.7,1570.0 L2393.2,1570.1 L2396.6,1570.3 L2400.1,1570.3 L2403.7,1570.4 L2407.2,1570.5 L2410.6,1570.6 L2414.1,1570.6 L2417.4,1570.7 L2420.8,1570.7 L2424.0,1570.8" stroke="#ff0000"/>
<path d="M255.0,670.2 L257.0,672.7 L259.1,675.2 L261.1,677.7 L263.1,680.2 L265.2,682.8 L267.2,685.3 L269.3,688.0 L271.5,690.6 L273.7,693.3 L275.9,696.0 L278.2,698.7 L280.4,701.2 L282.8,703.7 L285.2,706.0 L287.8,708.2 L290.6,710.3 L293.6,712.3 L296.7,714.2 L300.1,715.8 L303.7,717.3 L307.4,718.5 L311.2,719.4 L315.1,720.0 L319.0,720.3 L322.8,720.4 L326.6,720.2 L330.3,719.8 L333.9,719.1 L337.4,718.4 L340.9,717.5 L344.4,716.6 L347.8,715.8 L351.3,715.0 L354.7,714.3 L358.1,713.7 L361.4,713.2 L364.7,712.8 L367.9,712.5 L371.2,712.3 L374.5,712.1 L377.8,711.9 L381.3,711.6 L384.7,711.1 L388.0,710.5 L391.2,709.6 L394.1,708.4 L396.9,707.0 L399.5,705.3 L402.0,703.5 L404.5,701.6 L406.9,699.5 L409.3,697.4 L411.7,695.3 L414.1,693.2 L416.4,691.1 L418.7,689.0 L421.0,687.0 L423.3,685.0 L425.6,683.0 L427.9,681.0 L430.3,679.0 L432.7,677.0 L435.2,674.9 L437.7,672.8 L440.3,670.8 L442.9,668.7 L445.5,666.7 L448.1,664.7 L450.7,662.7 L453.3,660.8 L455.9,658.9 L458.5,657.0 L461.1,655.2 L463.8,653.4 L466.4,651.5 L469.2,649.7 L472.0,647.9 L474.8,646.1 L477.7,644.3 L480.5,642.5 L483.3,640.8 L486.1,639.0 L489.0,637.4 L491.9,635.8 L494.9,634.4 L498.1,633.2 L501.4,632.3 L504.7,631.7 L507.9,631.6 L511.1,631.8 L514.2,632.5 L517.2,633.6 L520.1,635.0 L522.9,636.7 L525.5,638.6 L528.0,640.8 L530.2,643.1 L532.3,645.5 L534.2,648.1 L535.9,650.8 L537.5,653.5 L539.0,656.4 L540.5,659.4 L541.9,662.5 L543.2,665.5 L544.5,668.6 L545.8,671.7 L547.0,674.8 L548.2,677.9 L549.3,681.0 L550.4,684.1 L551.5,687.2 L552.5,690.3 L553.4,693.3 L554.3,696.2 L555.1,699.1 L556.0,702.0 L556.7,704.9 L557.5,707.9 L558.3,710.9 L559.0,713.9 L559.7,716.9 L560.4,720.0 L561.0,723.1 L561.7,726.3 L562.3,729.6 L562.9,732.9 L563.5,736.1 L564.1,739.3 L564.6,742.4 L565.1,745.3 L565.6,748.2 L566.0,751.1 L566.5,753.9 L566.9,756.6 L567.3,759.4 L567.6,762.1 L568.0,764.8 L568.3,767.6 L568.7,770.5 L569.0,773.4 L569.4,776.6 L569.8,779.8 L570.2,783.1 L570.6,786.5 L571.0,789.9 L571.5,793.2 L571.9,796.5 L572.4,799.7 L572.9,802.9 L573.4,806.0 L573.9,809.1 L574.5,812.2 L575.1,815.3 L575.6,818.4 L576.2,821.5 L576.8,824.7 L577.4,827.8 L578.0,831.0 L578.6,834.2 L579.2,837.4 L579.8,840.5 L580.3,843.7 L580.8,846.8 L581.3,850.0 L581.8,853.1 L582.3,856.2 L582.7,859.4 L583.2,862.5 L583.6,865.6 L584.0,868.7 L584.4,871.9 L584.8,875.0 L585.2,878.1 L585.5,881.2 L585.9,884.4 L586.3,887.5 L586.7,890.6 L587.2,893.8 L587.6,896.9 L588.0,900.0 L588.5,903.2 L588.9,906.4 L589.4,909.5 L589.9,912.7 L590.4,915.9 L590.9,919.1 L591.4,922.3 L591.9,925.5 L592.4,928.7 L592.9,931.8 L593.4,935.0 L593.9,938.0 L594.4,941.1 L594.9,944.2 L595.4,947.3 L596.0,950.4 L596.5,953.6 L597.1,956.8 L597.6,960.1 L598.2,963.3 L598.7,966.6 L599.3,969.7 L599.9,972.9 L600.4,976.0 L601.0,979.1 L601.6,982.2 L602.2,985.3 L602.8,988.5 L603.5,991.7 L604.2,995.0 L604.8,998.1 L605.5,1001.3 L606.2,1004.4 L606.9,1007.6 L607.6,1010.9 L608.3,1014.2 L609.1,1017.6 L609.9,1021.0 L610.7,1024.3 L611.6,1027.5 L612.6,1030.7 L613.7,1033.8 L614.9,1037.0 L616.3,1040.1 L617.9,1043.3 L619.8,1046.5 L622.0,1049.5 L624.5,1052.4 L627.3,1055.0 L630.4,1057.1 L633.8,1058.5 L637.3,1059.1 L640.8,1059.1 L644.3,1058.4 L647.6,1057.2 L650.9,1055.7 L654.0,1054.1 L657.2,1052.4 L660.2,1050.6 L663.3,1048.9 L666.4,1047.1 L669.4,1045.4 L672.5,1043.7 L675.5,1042.1 L678.5,1040.5 L681.6,1039.0 L684.6,1037.6 L687.6,1036.3 L690.6,1035.1 L693.6,1034.0 L696.6,1033.0 L699.7,1032.2 L702.7,1031.5 L705.7,1031.0 L708.8,1030.6 L711.8,1030.3 L714.9,1030.1 L717.9,1030.0 L720.9,1030.0 L724.0,1030.2 L727.0,1030.4 L730.1,1030.8 L733.1,1031.3 L736.1,1031.9 L739.2,1032.6 L742.2,1033.4 L745.2,1034.3 L748.3,1035.3 L751.3,1036.4 L754.3,1037.4 L757.4,1038.5 L760.4,1039.7 L763.5,1040.8 L766.4,1042.0 L769.3,1043.2 L772.1,1044.5 L774.8,1045.7 L777.5,1047.0 L780.2,1048.4 L782.8,1049.8 L785.6,1051.2 L788.4,1052.8 L791.2,1054.4 L794.0,1056.1 L796.8,1057.7 L799.4,1059.4 L801.9,1061.1 L804.3,1062.7 L806.7,1064.4 L809.0,1066.0 L811.3,1067.7 L813.6,1069.5 L816.0,1071.3 L818.4,1073.1 L820.8,1075.0 L823.3,1076.9 L825.7,1078.9 L828.2,1080.9 L830.6,1082.9 L833.1,1084.9 L835.5,1086.9 L838.0,1089.0 L840.4,1091.0 L842.8,1093.1 L845.2,1095.1 L847.6,1097.2 L850.0,1099.2 L852.3,1101.2 L854.6,1103.3 L856.9,1105.3 L859.2,1107.4 L861.5,1109.4 L863.8,1111.5 L866.1,1113.6 L868.4,1115.7 L870.7,1117.8 L873.0,1119.9 L875.2,1122.1 L877.5,1124.2 L879.8,1126.4 L882.0,1128.6 L884.3,1130.8 L886.5,1133.0 L888.8,1135.2 L891.0,1137.4 L893.3,1139.6 L895.5,1141.9 L897.7,1144.1 L899.9,1146.3 L902.1,1148.6 L904.2,1150.8 L906.3,1153.0 L908.4,1155.2 L910.6,1157.4 L912.7,1159.7 L914.7,1161.9 L916.8,1164.2 L918.9,1166.5 L921.0,1168.7 L923.1,1171.0 L925.2,1173.3 L927.2,1175.6 L929.3,1178.0 L931.4,1180.3 L933.5,1182.6 L935.5,1184.9 L937.6,1187.3 L939.7,1189.6 L941.7,1191.9 L943.8,1194.3 L945.9,1196.6 L947.9,1198.9 L950.0,1201.3 L952.0,1203.6 L954.0,1205.9 L956.0,1208.2 L958.0,1210.5 L960.0,1212.9 L962.0,1215.2 L964.0,1217.5 L966.0,1219.9 L968.0,1222.2 L970.0,1224.6 L972.0,1226.9 L974.0,1229.3 L976.0,1231.6 L978.0,1234.0 L980.0,1236.3 L982.0,1238.7 L984.0,1241.0 L986.0,1243.4 L988.0,1245.7 L990.0,1248.0 L992.0,1250.4 L994.0,1252.7 L996.0,1255.0 L998.0,1257.3 L1000.0,1259.6 L1002.1,1261.9 L1004.1,1264.3 L1006.2,1266.6 L1008.3,1268.9 L1010.3,1271.2 L1012.4,1273.6 L1014.5,1275.9 L1016.6,1278.2 L1018.6,1280.5 L1020.7,1282.8 L1022.8,1285.1 L1024.9,1287.4 L1027.0,1289.7 L1029.1,1292.0 L1031.1,1294.2 L1033.2,1296.5 L1035.3,1298.8 L1037.4,1301.0 L1039.5,1303.3 L1041.6,1305.6 L1043.7,1307.8 L1045.8,1310.0 L1047.9,1312.3 L1050.0,1314.5 L1052.2,1316.8 L1054.3,1319.0 L1056.5,1321.3 L1058.6,1323.5 L1060.8,1325.7 L1063.0,1328.0 L1065.1,1330.2 L1067.3,1332.4 L1069.5,1334.6 L1071.6,1336.8 L1073.8,1339.1 L1076.0,1341.2 L1078.1,1343.4 L1080.3,1345.6 L1082.5,1347.8 L1084.7,1350.0 L1086.9,1352.2 L1089.1,1354.3 L1091.2,1356.5 L1093.4,1358.6 L1095.6,1360.8 L1097.8,1363.0 L1100.0,1365.2 L1102.3,1367.3 L1104.5,1369.5 L1106.8,1371.7 L1109.0,1374.0 L1111.2,1376.2 L1113.5,1378.4 L1115.7,1380.6 L1118.0,1382.8 L1120.2,1385.0 L1122.5,1387.2 L1124.8,1389.4 L1127.0,1391.6 L1129.3,1393.8 L1131.6,1395.9 L1133.8,1398.0 L1136.1,1400.1 L1138.4,1402.2 L1140.7,1404.2 L1143.0,1406.3 L1145.4,1408.3 L1147.7,1410.2 L1150.1,1412.2 L1152.5,1414.1 L1154.9,1416.0 L1157.3,1417.9 L1159.7,1419.8 L1162.2,1421.6 L1164.6,1423.4 L1167.1,1425.2 L1169.5,1427.0 L1172.0,1428.7 L1174.5,1430.5 L1176.9,1432.2 L1179.4,1433.9 L1182.0,1435.6 L1184.5,1437.2 L1187.0,1438.9 L1189.6,1440.6 L1192.2,1442.3 L1194.7,1443.9 L1197.3,1445.6 L1199.9,1447.2 L1202.4,1448.8 L1205.0,1450.4 L1207.5,1452.0 L1210.0,1453.6 L1212.6,1455.2 L1215.1,1456.8 L1217.7,1458.3 L1220.3,1459.9 L1222.9,1461.5 L1225.5,1463.0 L1228.1,1464.6 L1230.7,1466.1 L1233.4,1467.6 L1236.0,1469.1 L1238.7,1470.6 L1241.3,1472.1 L1244.0,1473.5 L1246.7,1474.9 L1249.3,1476.3 L1252.0,1477.7 L1254.7,1479.0 L1257.4,1480.3 L1260.2,1481.6 L1263.0,1482.9 L1266.0,1484.2 L1268.9,1485.5 L1272.0,1486.7 L1275.1,1488.0 L1278.2,1489.2 L1281.3,1490.4 L1284.5,1491.6 L1287.6,1492.8 L1290.8,1493.9 L1293.8,1495.0 L1296.9,1496.1 L1299.9,1497.1 L1302.7,1498.1 L1305.5,1499.0 L1308.2,1499.8 L1310.8,1500.7 L1313.3,1501.4 L1315.9,1502.2 L1318.5,1502.8 L1321.3,1503.5 L1324.2,1504.2 L1327.3,1504.8 L1330.5,1505.5 L1333.6,1506.1 L1336.7,1506.8 L1339.7,1507.4 L1342.7,1508.2 L1345.8,1508.9 L1348.9,1509.7 L1352.0,1510.5 L1355.2,1511.3 L1358.5,1512.2 L1361.7,1513.0 L1364.9,1513.8 L1368.0,1514.6 L1371.1,1515.3 L1374.2,1516.1 L1377.3,1516.8 L1380.4,1517.5 L1383.4,1518.3 L1386.5,1519.0 L1389.6,1519.7 L1392.6,1520.4 L1395.7,1521.1 L1398.9,1521.8 L1402.0,1522.5 L1405.2,1523.3 L1408.4,1524.0 L1411.7,1524.8 L1415.0,1525.5 L1418.3,1526.2 L1421.5,1527.0 L1424.7,1527.6 L1427.9,1528.3 L1431.0,1528.9 L1434.1,1529.4 L1437.2,1529.9 L1440.2,1530.2 L1443.3,1530.6 L1446.3,1530.8 L1449.3,1531.1 L1452.2,1531.3 L1455.2,1531.6 L1458.1,1531.8 L1461.0,1532.2 L1463.9,1532.5 L1466.8,1532.9 L1469.8,1533.3 L1472.7,1533.6 L1475.7,1533.9 L1478.6,1534.2 L1481.4,1534.4 L1484.3,1534.6 L1487.2,1534.7 L1490.2,1534.8 L1493.2,1534.9 L1496.3,1535.0 L1499.4,1535.1 L1502.5,1535.2 L1505.7,1535.2 L1508.8,1535.3 L1511.9,1535.3 L1515.0,1535.3 L1518.0,1535.4 L1521.1,1535.4 L1524.1,1535.4 L1527.2,1535.4 L1530.3,1535.4 L1533.5,1535.4 L1536.6,1535.4 L1539.7,1535.3 L1542.7,1535.3 L1545.7,1535.2 L1548.7,1535.1 L1551.7,1535.0 L1554.6,1534.9 L1557.5,1534.7 L1560.5,1534.5 L1563.5,1534.2 L1566.5,1533.9 L1569.5,1533.5 L1572.4,1533.2 L1575.3,1532.8 L1578.3,1532.4 L1581.3,1532.1 L1584.3,1531.7 L1587.4,1531.4 L1590.5,1531.1 L1593.6,1530.8 L1596.8,1530.5 L1600.0,1530.2 L1603.2,1530.0 L1606.4,1529.7 L1609.5,1529.4 L1612.7,1529.2 L1615.8,1528.9 L1618.9,1528.7 L1622.0,1528.5 L1625.0,1528.3 L1628.0,1528.0 L1631.0,1527.8 L1634.0,1527.6 L1637.0,1527.3 L1640.0,1526.9 L1643.1,1526.5 L1646.2,1526.0 L1649.4,1525.4 L1652.6,1524.8 L1655.7,1524.2 L1658.9,1523.5 L1662.1,1522.9 L1665.3,1522.3 L1668.5,1521.7 L1671.7,1521.1 L1674.9,1520.6 L1678.1,1520.1 L1681.3,1519.6 L1684.6,1519.1 L1687.8,1518.7 L1691.1,1518.2 L1694.5,1517.8 L1697.8,1517.3 L1701.1,1516.9 L1704.5,1516.5 L1707.8,1516.1 L1711.0,1515.6 L1714.2,1515.2 L1717.3,1514.7 L1720.5,1514.1 L1723.5,1513.6 L1726.6,1513.0 L1729.6,1512.5 L1732.6,1511.9 L1735.7,1511.3 L1738.7,1510.8 L1741.7,1510.2 L1744.8,1509.7 L1747.9,1509.2 L1751.0,1508.7 L1754.1,1508.3 L1757.1,1508.0 L1760.1,1507.7 L1763.1,1507.5 L1766.0,1507.3 L1769.0,1507.2 L1771.9,1507.2 L1774.9,1507.1 L1777.9,1507.0 L1780.9,1506.9 L1783.9,1506.8 L1786.9,1506.7 L1790.0,1506.6 L1793.0,1506.4 L1796.1,1506.2 L1799.1,1506.0 L1802.2,1505.9 L1805.2,1505.6 L1808.2,1505.4 L1811.2,1505.2 L1814.2,1504.9 L1817.2,1504.7 L1820.1,1504.5 L1823.1,1504.2 L1826.0,1504.0 L1829.0,1503.8 L1832.0,1503.6 L1834.9,1503.4 L1837.9,1503.2 L1840.9,1503.1 L1843.9,1502.9 L1846.9,1502.9 L1849.9,1502.8 L1852.9,1502.7 L1856.0,1502.7 L1859.0,1502.8 L1862.1,1502.8 L1865.2,1503.0 L1868.3,1503.2 L1871.5,1503.5 L1874.7,1503.9 L1877.9,1504.3 L1881.1,1504.8 L1884.3,1505.2 L1887.5,1505.6 L1890.7,1506.0 L1894.0,1506.3 L1897.2,1506.5 L1900.4,1506.8 L1903.6,1507.0 L1906.8,1507.3 L1909.9,1507.6 L1913.0,1508.1 L1916.0,1508.7 L1918.9,1509.4 L1921.8,1510.2 L1924.7,1511.0 L1927.6,1511.9 L1930.5,1512.8 L1933.4,1513.8 L1936.4,1514.7 L1939.3,1515.6 L1942.3,1516.5 L1945.3,1517.4 L1948.4,1518.3 L1951.4,1519.1 L1954.5,1519.9 L1957.5,1520.7 L1960.5,1521.3 L1963.6,1521.8 L1966.6,1522.3 L1969.6,1522.7 L1972.6,1523.0 L1975.6,1523.3 L1978.6,1523.6 L1981.6,1523.9 L1984.6,1524.1 L1987.6,1524.4 L1990.6,1524.7 L1993.6,1525.0 L1996.6,1525.3 L1999.6,1525.6 L2002.6,1525.9 L2005.6,1526.3 L2008.6,1526.7 L2011.6,1527.2 L2014.7,1527.7 L2017.7,1528.4 L2020.8,1529.1 L2023.8,1529.9 L2026.9,1530.7 L2029.9,1531.5 L2033.0,1532.3 L2036.0,1533.0 L2038.9,1533.7 L2041.9,1534.2 L2044.9,1534.6 L2047.9,1534.9 L2050.9,1535.2 L2053.8,1535.5 L2056.8,1535.8 L2059.8,1536.3 L2062.7,1537.0 L2065.7,1537.8 L2068.7,1538.8 L2071.7,1539.8 L2074.7,1540.9 L2077.7,1542.0 L2080.8,1543.1 L2083.8,1544.2 L2086.8,1545.3 L2089.8,1546.4 L2092.9,1547.5 L2096.0,1548.6 L2099.0,1549.7 L2102.1,1550.8 L2105.2,1551.9 L2108.4,1553.0 L2111.5,1554.0 L2114.6,1554.9 L2117.8,1555.7 L2120.9,1556.5 L2124.0,1557.2 L2127.1,1557.7 L2130.2,1558.1 L2133.2,1558.5 L2136.2,1558.7 L2139.2,1558.8 L2142.3,1559.0 L2145.3,1559.0 L2148.3,1559.0 L2151.3,1559.0 L2154.3,1559.0 L2157.3,1559.1 L2160.4,1559.2 L2163.5,1559.3 L2166.7,1559.6 L2169.9,1559.9 L2173.1,1560.3 L2176.4,1560.8 L2179.6,1561.4 L2182.8,1562.0 L2186.1,1562.7 L2189.3,1563.5 L2192.4,1564.3 L2195.6,1565.2 L2198.9,1566.2 L2202.2,1567.1 L2205.5,1568.1 L2208.8,1569.0 L2212.1,1569.9 L2215.4,1570.7 L2218.6,1571.5 L2221.9,1572.1 L2225.1,1572.8 L2228.5,1573.3 L2231.8,1573.9 L2235.2,1574.4 L2238.6,1574.9 L2242.0,1575.4 L2245.2,1575.8 L2248.4,1576.1 L2251.6,1576.5 L2254.8,1576.7 L2258.0,1577.0 L2261.2,1577.2 L2264.3,1577.4 L2267.5,1577.5 L2270.7,1577.6 L2273.9,1577.7 L2277.2,1577.7 L2280.5,1577.7 L2283.7,1577.6 L2287.0,1577.5 L2290.3,1577.4 L2293.5,1577.3 L2296.7,1577.2 L2299.9,1577.2 L2303.1,1577.3 L2306.3,1577.5 L2309.5,1577.7 L2312.6,1578.0 L2315.8,1578.4 L2319.0,1578.7 L2322.2,1579.0 L2325.3,1579.2 L2328.4,1579.4 L2331.6,1579.6 L2334.7,1579.7 L2337.9,1579.8 L2341.1,1579.9 L2344.3,1579.9 L2347.5,1580.0 L2350.6,1580.1 L2353.6,1580.3 L2356.7,1580.5 L2359.7,1580.8 L2362.7,1581.1 L2365.7,1581.5 L2368.7,1582.0 L2371.7,1582.3 L2374.6,1582.6 L2377.6,1582.8 L2380.7,1582.8 L2383.7,1582.6 L2386.9,1582.3 L2390.1,1582.0 L2393.4,1581.6 L2396.8,1581.2 L2400.3,1580.9 L2403.8,1580.5 L2407.3,1580.1 L2410.7,1579.7 L2414.1,1579.4 L2417.4,1579.0 L2420.8,1578.7 L2424.0,1578.3" stroke="#00ff00"/>
<path d="M255.0,581.0 L257.8,583.1 L260.6,585.1 L263.3,587.1 L266.0,589.1 L268.7,591.0 L271.3,592.9 L273.8,594.7 L276.3,596.5 L278.8,598.3 L281.2,600.1 L283.7,601.9 L286.2,603.8 L288.7,605.6 L291.3,607.5 L293.9,609.3 L296.5,611.2 L299.3,613.0 L302.1,614.8 L305.0,616.5 L308.0,618.2 L311.0,619.8 L314.1,621.3 L317.1,622.8 L320.2,624.2 L323.3,625.6 L326.4,626.9 L329.5,628.3 L332.5,629.6 L335.6,630.9 L338.6,632.2 L341.7,633.4 L344.7,634.7 L347.8,635.9 L350.8,637.1 L353.8,638.3 L356.8,639.6 L359.7,640.9 L362.6,642.2 L365.4,643.6 L368.1,645.0 L370.9,646.5 L373.6,648.0 L376.4,649.5 L379.2,651.0 L382.1,652.5 L385.0,653.9 L388.1,655.1 L391.3,656.1 L394.6,656.8 L398.1,657.3 L401.6,657.5 L405.2,657.5 L408.8,657.4 L412.4,657.2 L415.8,656.9 L419.3,656.4 L422.6,655.8 L425.8,655.2 L429.0,654.4 L432.2,653.6 L435.3,652.7 L438.5,651.7 L441.6,650.7 L444.7,649.6 L447.7,648.4 L450.7,647.2 L453.8,646.0 L456.8,644.7 L459.8,643.4 L462.9,642.1 L465.9,640.7 L469.0,639.3 L472.1,638.0 L475.3,636.6 L478.5,635.3 L481.8,634.1 L485.1,633.0 L488.4,632.2 L491.7,631.6 L494.8,631.4 L497.9,631.5 L500.9,632.1 L503.8,632.9 L506.6,634.1 L509.2,635.6 L511.6,637.4 L513.8,639.4 L515.8,641.6 L517.7,643.9 L519.3,646.4 L520.8,648.9 L522.1,651.4 L523.3,654.0 L524.4,656.7 L525.5,659.4 L526.5,662.2 L527.5,665.1 L528.5,668.1 L529.5,671.3 L530.5,674.5 L531.5,677.7 L532.4,680.8 L533.3,684.0 L534.1,687.1 L534.9,690.2 L535.6,693.3 L536.3,696.3 L537.0,699.3 L537.6,702.4 L538.2,705.4 L538.8,708.4 L539.4,711.4 L540.0,714.4 L540.6,717.4 L541.2,720.3 L541.8,723.3 L542.4,726.3 L543.0,729.3 L543.6,732.3 L544.1,735.3 L544.7,738.4 L545.2,741.4 L545.8,744.4 L546.3,747.4 L546.7,750.4 L547.2,753.4 L547.7,756.4 L548.2,759.5 L548.6,762.5 L549.1,765.6 L549.6,768.7 L550.0,771.8 L550.4,774.8 L550.9,777.9 L551.3,781.0 L551.8,784.1 L552.2,787.1 L552.6,790.2 L553.0,793.3 L553.5,796.4 L553.9,799.4 L554.3,802.5 L554.7,805.5 L555.1,808.5 L555.4,811.5 L555.8,814.5 L556.2,817.5 L556.6,820.5 L557.0,823.6 L557.4,826.7 L557.8,829.8 L558.1,832.9 L558.5,836.0 L558.9,839.1 L559.2,842.0 L559.6,844.7 L559.9,847.5 L560.2,850.2 L560.5,852.9 L560.9,855.7 L561.2,858.6 L561.6,861.6 L561.9,864.6 L562.3,867.7 L562.6,870.9 L563.0,874.1 L563.4,877.3 L563.7,880.5 L564.1,883.8 L564.5,887.0 L564.8,890.3 L565.2,893.5 L565.5,896.8 L565.9,900.0 L566.2,903.2 L566.6,906.3 L566.9,909.5 L567.2,912.5 L567.5,915.6 L567.8,918.6 L568.1,921.7 L568.4,924.7 L568.7,927.7 L568.9,930.8 L569.2,933.8 L569.5,936.8 L569.8,939.9 L570.0,942.9 L570.3,945.9 L570.6,948.9 L570.8,952.0 L571.1,955.0 L571.3,958.0 L571.6,961.1 L571.8,964.1 L572.1,967.1 L572.3,970.2 L572.6,973.2 L572.8,976.2 L573.0,979.2 L573.3,982.3 L573.5,985.3 L573.7,988.3 L573.9,991.4 L574.1,994.4 L574.4,997.5 L574.6,1000.5 L574.8,1003.6 L575.0,1006.6 L575.2,1009.7 L575.4,1012.8 L575.5,1015.8 L575.7,1018.9 L575.9,1021.9 L576.1,1025.0 L576.3,1028.0 L576.5,1031.1 L576.6,1034.1 L576.8,1037.1 L577.0,1040.1 L577.2,1043.1 L577.4,1046.1 L577.6,1049.1 L577.7,1052.1 L577.9,1055.1 L578.1,1058.1 L578.3,1061.2 L578.5,1064.3 L578.7,1067.4 L578.9,1070.5 L579.1,1073.6 L579.3,1076.7 L579.5,1079.8 L579.7,1082.8 L579.9,1085.9 L580.1,1089.0 L580.2,1092.0 L580.4,1095.1 L580.6,1098.1 L580.8,1101.2 L581.0,1104.3 L581.2,1107.4 L581.5,1110.5 L581.7,1113.6 L581.9,1116.7 L582.1,1119.8 L582.3,1122.8 L582.5,1125.8 L582.7,1128.8 L583.0,1131.8 L583.2,1134.8 L583.4,1137.8 L583.7,1140.8 L583.9,1143.8 L584.1,1146.8 L584.4,1149.9 L584.6,1152.9 L584.8,1156.0 L585.1,1159.0 L585.3,1162.1 L585.6,1165.1 L585.8,1168.2 L586.0,1171.2 L586.3,1174.3 L586.5,1177.4 L586.7,1180.4 L586.9,1183.5 L587.2,1186.5 L587.4,1189.6 L587.6,1192.6 L587.8,1195.6 L588.0,1198.7 L588.2,1201.7 L588.4,1204.7 L588.6,1207.7 L588.8,1210.8 L589.0,1213.8 L589.1,1216.8 L589.3,1219.9 L589.5,1222.9 L589.7,1225.9 L589.9,1228.9 L590.1,1232.0 L590.2,1235.0 L590.4,1238.0 L590.6,1241.1 L590.8,1244.1 L591.0,1247.1 L591.1,1250.2 L591.3,1253.2 L591.5,1256.2 L591.7,1259.3 L591.9,1262.3 L592.1,1265.4 L592.3,1268.5 L592.5,1271.6 L592.7,1274.8 L592.9,1278.0 L593.1,1281.2 L593.4,1284.5 L593.6,1287.8 L593.8,1291.1 L594.0,1294.4 L594.2,1297.6 L594.5,1300.9 L594.7,1304.2 L594.9,1307.4 L595.1,1310.5 L595.3,1313.6 L595.6,1316.7 L595.8,1319.6 L596.0,1322.5 L596.2,1325.3 L596.4,1328.0 L596.6,1330.7 L596.8,1333.3 L597.1,1336.0 L597.3,1338.8 L597.6,1341.7 L597.9,1344.6 L598.2,1347.6 L598.5,1350.6 L598.8,1353.6 L599.1,1356.5 L599.4,1359.4 L599.7,1362.3 L599.9,1365.1 L600.2,1368.0 L600.4,1370.8 L600.7,1373.8 L600.9,1376.8 L601.2,1379.9 L601.5,1383.1 L601.7,1386.3 L602.0,1389.5 L602.2,1392.7 L602.5,1395.9 L602.8,1399.1 L603.0,1402.2 L603.3,1405.3 L603.5,1408.3 L603.8,1411.4 L604.0,1414.4 L604.3,1417.4 L604.5,1420.5 L604.8,1423.5 L605.1,1426.6 L605.3,1429.6 L605.6,1432.6 L605.8,1435.5 L606.1,1438.4 L606.4,1441.4 L606.6,1444.3 L606.9,1447.3 L607.2,1450.3 L607.5,1453.3 L607.9,1456.3 L608.2,1459.3 L608.5,1462.4 L608.9,1465.5 L609.2,1468.5 L609.6,1471.5 L609.9,1474.5 L610.3,1477.5 L610.7,1480.5 L611.1,1483.5 L611.4,1486.5 L611.9,1489.5 L612.3,1492.6 L612.7,1495.7 L613.1,1498.7 L613.6,1501.7 L614.1,1504.7 L614.6,1507.7 L615.1,1510.6 L615.6,1513.6 L616.3,1516.6 L616.9,1519.6 L617.6,1522.7 L618.3,1525.7 L619.1,1528.8 L620.0,1532.0 L621.0,1535.2 L622.1,1538.4 L623.3,1541.7 L624.7,1544.8 L626.2,1547.9 L627.9,1550.8 L629.6,1553.6 L631.5,1556.3 L633.7,1558.8 L636.0,1561.1 L638.5,1563.0 L641.3,1564.6 L644.3,1565.8 L647.2,1566.6 L650.0,1567.1 L652.8,1567.3 L655.3,1567.4 L657.8,1567.5 L660.3,1567.5 L662.9,1567.5 L665.6,1567.5 L668.5,1567.5 L671.5,1567.5 L674.7,1567.5 L677.9,1567.5 L681.2,1567.5 L684.6,1567.5 L688.0,1567.5 L691.5,1567.4 L694.9,1567.4 L698.3,1567.4 L701.6,1567.4 L704.9,1567.4 L708.1,1567.4 L711.3,1567.4 L714.4,1567.4 L717.5,1567.4 L720.5,1567.4 L723.5,1567.4 L726.6,1567.4 L729.6,1567.4 L732.7,1567.4 L735.7,1567.4 L738.7,1567.4 L741.8,1567.4 L744.8,1567.4 L747.8,1567.4 L750.9,1567.4 L753.9,1567.4 L756.9,1567.4 L760.0,1567.4 L763.0,1567.4 L766.1,1567.4 L769.1,1567.4 L772.1,1567.4 L775.2,1567.4 L778.2,1567.4 L781.3,1567.4 L784.3,1567.4 L787.4,1567.4 L790.4,1567.4 L793.4,1567.4 L796.5,1567.4 L799.5,1567.4 L802.6,1567.4 L805.6,1567.4 L808.6,1567.4 L811.7,1567.4 L814.7,1567.4 L817.8,1567.4 L820.8,1567.4 L823.9,1567.4 L826.9,1567.4 L829.9,1567.4 L833.0,1567.4 L836.0,1567.4 L839.1,1567.4 L842.1,1567.4 L845.1,1567.4 L848.2,1567.4 L851.2,1567.4 L854.2,1567.4 L857.3,1567.4 L860.3,1567.4 L863.3,1567.4 L866.4,1567.4 L869.4,1567.4 L872.5,1567.4 L875.5,1567.4 L878.5,1567.4 L881.6,1567.4 L884.6,1567.4 L887.6,1567.4 L890.7,1567.4 L893.7,1567.4 L896.7,1567.4 L899.8,1567.4 L902.8,1567.4 L905.9,1567.4 L908.9,1567.4 L911.9,1567.4 L915.0,1567.4 L918.0,1567.4 L921.0,1567.4 L924.1,1567.4 L927.1,1567.4 L930.2,1567.4 L933.2,1567.4 L936.2,1567.4 L939.3,1567.4 L942.3,1567.4 L945.4,1567.4 L948.4,1567.4 L951.5,1567.4 L954.5,1567.4 L957.6,1567.4 L960.7,1567.4 L963.7,1567.4 L966.8,1567.4 L969.9,1567.4 L972.9,1567.4 L976.0,1567.4 L979.0,1567.4 L982.1,1567.4 L985.1,1567.4 L988.1,1567.4 L991.1,1567.4 L994.1,1567.4 L997.1,1567.4 L1000.2,1567.4 L1003.3,1567.4 L1006.4,1567.4 L1009.6,1567.4 L1012.7,1567.4 L1015.9,1567.4 L1019.0,1567.4 L1022.1,1567.4 L1025.2,1567.4 L1028.3,1567.4 L1031.4,1567.4 L1034.5,1567.4 L1037.6,1567.4 L1040.7,1567.4 L1043.8,1567.4 L1046.9,1567.4 L1050.0,1567.4 L1053.1,1567.4 L1056.3,1567.4 L1059.4,1567.4 L1062.5,1567.4 L1065.6,1567.4 L1068.8,1567.4 L1071.9,1567.4 L1075.0,1567.4 L1078.1,1567.4 L1081.2,1567.4 L1084.4,1567.4 L1087.5,1567.4 L1090.6,1567.4 L1093.8,1567.4 L1096.9,1567.4 L1100.0,1567.4 L1103.1,1567.4 L1106.2,1567.4 L1109.4,1567.4 L1112.5,1567.4 L1115.6,1567.4 L1118.8,1567.4 L1121.9,1567.4 L1125.0,1567.4 L1128.1,1567.4 L1131.2,1567.4 L1134.4,1567.4 L1137.5,1567.4 L1140.6,1567.4 L1143.8,1567.4 L1146.9,1567.4 L1150.0,1567.4 L1153.1,1567.4 L1156.2,1567.4 L1159.4,1567.4 L1162.5,1567.4 L1165.6,1567.4 L1168.8,1567.4 L1171.9,1567.4 L1175.0,1567.4 L1178.1,1567.4 L1181.2,1567.4 L1184.4,1567.4 L1187.5,1567.4 L1190.6,1567.4 L1193.8,1567.4 L1196.9,1567.4 L1200.0,1567.4 L1203.1,1567.4 L1206.2,1567.4 L1209.4,1567.4 L1212.5,1567.4 L1215.6,1567.4 L1218.8,1567.4 L1221.9,1567.4 L1225.0,1567.4 L1228.1,1567.4 L1231.2,1567.4 L1234.4,1567.4 L1237.5,1567.4 L1240.6,1567.4 L1243.8,1567.4 L1246.9,1567.4 L1250.0,1567.4 L1253.1,1567.4 L1256.2,1567.4 L1259.4,1567.4 L1262.5,1567.4 L1265.6,1567.4 L1268.8,1567.4 L1271.9,1567.4 L1275.0,1567.4 L1278.1,1567.4 L1281.2,1567.4 L1284.4,1567.4 L1287.5,1567.4 L1290.6,1567.4 L1293.8,1567.4 L1296.9,1567.4 L1300.0,1567.4 L1303.1,1567.4 L1306.2,1567.4 L1309.4,1567.4 L1312.5,1567.4 L1315.6,1567.4 L1318.8,1567.4 L1321.9,1567.4 L1325.0,1567.4 L1328.1,1567.4 L1331.2,1567.4 L1334.4,1567.4 L1337.5,1567.4 L1340.6,1567.4 L1343.8,1567.4 L1346.9,1567.4 L1350.0,1567.4 L1353.1,1567.4 L1356.2,1567.4 L1359.4,1567.4 L1362.5,1567.4 L1365.6,1567.4 L1368.8,1567.4 L1371.9,1567.4 L1375.0,1567.4 L1378.1,1567.4 L1381.2,1567.4 L1384.4,1567.4 L1387.5,1567.4 L1390.6,1567.4 L1393.8,1567.4 L1396.9,1567.4 L1400.0,1567.4 L1403.1,1567.4 L1406.2,1567.4 L1409.4,1567.4 L1412.5,1567.4 L1415.6,1567.4 L1418.8,1567.4 L1421.9,1567.4 L1425.0,1567.4 L1428.1,1567.4 L1431.2,1567.4 L1434.4,1567.4 L1437.5,1567.4 L1440.6,1567.4 L1443.8,1567.4 L1446.9,1567.4 L1450.0,1567.4 L1453.1,1567.4 L1456.3,1567.4 L1459.4,1567.4 L1462.5,1567.4 L1465.6,1567.4 L1468.8,1567.4 L1471.9,1567.4 L1475.0,1567.4 L1478.1,1567.4 L1481.3,1567.4 L1484.4,1567.4 L1487.5,1567.4 L1490.6,1567.4 L1493.8,1567.4 L1496.9,1567.4 L1500.0,1567.4 L1503.1,1567.4 L1506.3,1567.4 L1509.4,1567.4 L1512.5,1567.4 L1515.6,1567.4 L1518.8,1567.4 L1521.9,1567.4 L1525.0,1567.4 L1528.1,1567.4 L1531.3,1567.4 L1534.4,1567.4 L1537.5,1567.4 L1540.6,1567.4 L1543.8,1567.4 L1546.9,1567.4 L1550.0,1567.4 L1553.1,1567.4 L1556.3,1567.4 L1559.4,1567.4 L1562.5,1567.4 L1565.6,1567.4 L1568.8,1567.4 L1571.9,1567.4 L1575.0,1567.4 L1578.1,1567.4 L1581.2,1567.4 L1584.4,1567.4 L1587.5,1567.4 L1590.6,1567.4 L1593.8,1567.4 L1596.9,1567.4 L1600.0,1567.4 L1603.1,1567.4 L1606.2,1567.4 L1609.4,1567.4 L1612.5,1567.4 L1615.6,1567.4 L1618.8,1567.4 L1621.9,1567.4 L1625.0,1567.4 L1628.1,1567.4 L1631.2,1567.4 L1634.4,1567.4 L1637.5,1567.4 L1640.6,1567.4 L1643.8,1567.4 L1646.9,1567.4 L1650.0,1567.4 L1653.1,1567.4 L1656.2,1567.4 L1659.4,1567.4 L1662.5,1567.4 L1665.6,1567.4 L1668.8,1567.4 L1671.9,1567.4 L1675.0,1567.4 L1678.1,1567.4 L1681.2,1567.4 L1684.4,1567.4 L1687.5,1567.4 L1690.6,1567.4 L1693.8,1567.4 L1696.9,1567.4 L1700.0,1567.4 L1703.1,1567.4 L1706.2,1567.4 L1709.4,1567.4 L1712.5,1567.4 L1715.6,1567.4 L1718.8,1567.4 L1721.9,1567.4 L1725.0,1567.4 L1728.1,1567.4 L1731.2,1567.4 L1734.4,1567.4 L1737.5,1567.4 L1740.6,1567.4 L1743.8,1567.4 L1746.9,1567.4 L1750.0,1567.5 L1753.1,1567.5 L1756.2,1567.5 L1759.4,1567.5 L1762.5,1567.5 L1765.6,1567.5 L1768.8,1567.5 L1771.9,1567.5 L1775.0,1567.5 L1778.1,1567.5 L1781.2,1567.5 L1784.4,1567.5 L1787.5,1567.5 L1790.6,1567.5 L1793.8,1567.5 L1796.9,1567.5 L1800.0,1567.5 L1803.1,1567.5 L1806.2,1567.5 L1809.4,1567.5 L1812.5,1567.5 L1815.6,1567.5 L1818.8,1567.5 L1821.9,1567.5 L1825.0,1567.5 L1828.1,1567.5 L1831.2,1567.5 L1834.4,1567.5 L1837.5,1567.5 L1840.6,1567.5 L1843.8,1567.5 L1846.9,1567.5 L1850.0,1567.5 L1853.1,1567.5 L1856.2,1567.5 L1859.4,1567.5 L1862.5,1567.5 L1865.6,1567.5 L1868.8,1567.5 L1871.9,1567.5 L1875.0,1567.5 L1878.1,1567.5 L1881.2,1567.5 L1884.4,1567.5 L1887.5,1567.5 L1890.6,1567.5 L1893.8,1567.5 L1896.9,1567.5 L1900.0,1567.5 L1903.1,1567.5 L1906.2,1567.5 L1909.4,1567.5 L1912.5,1567.5 L1915.6,1567.5 L1918.8,1567.5 L1921.9,1567.5 L1925.0,1567.5 L1928.1,1567.5 L1931.2,1567.5 L1934.4,1567.5 L1937.5,1567.5 L1940.6,1567.5 L1943.7,1567.5 L1946.9,1567.5 L1950.0,1567.5 L1953.1,1567.5 L1956.2,1567.5 L1959.3,1567.5 L1962.4,1567.5 L1965.5,1567.5 L1968.6,1567.5 L1971.6,1567.5 L1974.7,1567.5 L1977.8,1567.5 L1980.9,1567.5 L1984.1,1567.5 L1987.2,1567.5 L1990.4,1567.5 L1993.5,1567.5 L1996.6,1567.5 L1999.7,1567.5 L2002.8,1567.5 L2005.8,1567.5 L2008.7,1567.5 L2011.7,1567.5 L2014.6,1567.5 L2017.6,1567.5 L2020.6,1567.5 L2023.6,1567.5 L2026.6,1567.5 L2029.7,1567.5 L2032.7,1567.5 L2035.7,1567.5 L2038.8,1567.5 L2041.8,1567.5 L2044.9,1567.5 L2047.9,1567.5 L2050.9,1567.5 L2054.0,1567.5 L2057.0,1567.5 L2060.0,1567.5 L2063.0,1567.5 L2066.0,1567.5 L2069.0,1567.5 L2072.0,1567.5 L2075.0,1567.5 L2078.0,1567.5 L2081.0,1567.5 L2084.0,1567.5 L2087.0,1567.5 L2090.0,1567.5 L2093.0,1567.5 L2096.0,1567.5 L2099.0,1567.5 L2102.0,1567.5 L2105.0,1567.5 L2108.0,1567.5 L2111.0,1567.5 L2114.0,1567.5 L2117.0,1567.5 L2120.0,1567.5 L2123.0,1567.4 L2126.0,1567.4 L2129.0,1567.4 L2132.0,1567.4 L2135.0,1567.4 L2138.0,1567.4 L2141.0,1567.4 L2144.0,1567.4 L2147.0,1567.4 L2150.0,1567.4 L2153.0,1567.4 L2156.0,1567.4 L2159.0,1567.4 L2162.0,1567.4 L2165.0,1567.4 L2168.0,1567.4 L2171.0,1567.4 L2174.0,1567.4 L2177.0,1567.4 L2180.0,1567.4 L2183.0,1567.4 L2186.0,1567.4 L2188.9,1567.4 L2191.9,1567.4 L2194.9,1567.4 L2197.8,1567.4 L2200.8,1567.4 L2203.8,1567.4 L2206.7,1567.4 L2209.7,1567.4 L2212.7,1567.4 L2215.7,1567.4 L2218.7,1567.4 L2221.7,1567.4 L2224.7,1567.4 L2227.7,1567.4 L2230.8,1567.4 L2233.8,1567.4 L2236.9,1567.4 L2240.0,1567.4 L2243.1,1567.4 L2246.3,1567.3 L2249.5,1567.3 L2252.8,1567.3 L2256.2,1567.2 L2259.6,1567.2 L2263.0,1567.1 L2266.5,1567.1 L2269.9,1567.0 L2273.4,1567.0 L2276.8,1566.9 L2280.2,1566.9 L2283.5,1566.8 L2286.8,1566.8 L2290.0,1566.8 L2293.0,1566.8 L2296.0,1566.8 L2298.8,1566.9 L2301.4,1566.9 L2304.0,1567.0 L2306.5,1567.2 L2309.0,1567.4 L2311.6,1567.8 L2314.3,1568.2 L2317.2,1568.7 L2320.1,1569.3 L2323.2,1570.0 L2326.4,1570.7 L2329.7,1571.4 L2333.0,1572.0 L2336.4,1572.5 L2339.8,1572.9 L2343.1,1573.1 L2346.5,1573.2 L2349.8,1573.1 L2353.1,1572.9 L2356.5,1572.6 L2359.8,1572.2 L2363.2,1571.7 L2366.5,1571.3 L2369.8,1570.9 L2373.2,1570.6 L2376.5,1570.5 L2379.8,1570.5 L2383.2,1570.6 L2386.5,1571.0 L2389.8,1571.4 L2393.2,1571.9 L2396.6,1572.4 L2400.0,1572.9 L2403.5,1573.2 L2407.0,1573.5 L2410.4,1573.8 L2413.9,1573.9 L2417.3,1574.1 L2420.7,1574.2 L2424.0,1574.4" stroke="#0000ff"/>
</g>
<g id="yticklabels">
<text transform="translate(152.40,1595.80) scale(0.965,1)" font-size="68.3" font-weight="bold" letter-spacing="-3.9" text-anchor="start">0.0</text>
<text transform="translate(152.40,1312.60) scale(0.965,1)" font-size="68.3" font-weight="bold" letter-spacing="-3.9" text-anchor="start">0.1</text>
<text transform="translate(152.40,1029.40) scale(0.965,1)" font-size="68.3" font-weight="bold" letter-spacing="-3.9" text-anchor="start">0.2</text>
<text transform="translate(152.40,746.20) scale(0.965,1)" font-size="68.3" font-weight="bold" letter-spacing="-3.9" text-anchor="start">0.3</text>
<text transform="translate(152.40,463.00) scale(0.965,1)" font-size="68.3" font-weight="bold" letter-spacing="-3.9" text-anchor="start">0.4</text>
<text transform="translate(152.40,179.80) scale(0.965,1)" font-size="68.3" font-weight="bold" letter-spacing="-3.9" text-anchor="start">0.5</text>
</g>
<g id="xticklabels">
<text transform="translate(221.15,1688.70) scale(0.965,1)" font-size="68.3" font-weight="bold" letter-spacing="-5.142" text-anchor="start">300</text>
<text transform="translate(646.45,1688.70) scale(0.965,1)" font-size="68.3" font-weight="bold" letter-spacing="-3.174" text-anchor="start">400</text>
<text transform="translate(1076.15,1688.70) scale(0.965,1)" font-size="68.3" font-weight="bold" letter-spacing="-4.521" text-anchor="start">500</text>
<text transform="translate(1503.55,1688.70) scale(0.965,1)" font-size="68.3" font-weight="bold" letter-spacing="-3.381" text-anchor="start">600</text>
<text transform="translate(1932.00,1688.70) scale(0.965,1)" font-size="68.3" font-weight="bold" letter-spacing="-3.744" text-anchor="start">700</text>
<text transform="translate(2361.00,1688.70) scale(0.965,1)" font-size="68.3" font-weight="bold" letter-spacing="-3.744" text-anchor="start">800</text>
</g>
<g id="axistitles">
<text transform="translate(1043.50,1815.00) scale(0.965,1)" font-size="79.5" font-weight="bold" letter-spacing="-1.437" text-anchor="start">Wavelength <tspan font-size="74.5" dy="-1">(</tspan><tspan dy="1">nm</tspan><tspan font-size="74.5" dy="-1">)</tspan></text>
<text transform="translate(89.50,1128.80) rotate(-90) scale(0.965,1)" font-size="79.5" font-weight="bold" letter-spacing="0.422" text-anchor="start">Absorbance <tspan font-size="74.5" dy="-1">(</tspan><tspan dy="1">a.u.</tspan><tspan font-size="74.5" dy="-1">)</tspan></text>
</g>
<g id="legend">
<line x1="1514.8" y1="149.9" x2="1688.0" y2="149.9" stroke="#000000" stroke-width="12.2" stroke-linecap="round" shape-rendering="crispEdges"/>
<line x1="1514.8" y1="244.0" x2="1688.0" y2="244.0" stroke="#ff0000" stroke-width="12.2" stroke-linecap="round" shape-rendering="crispEdges"/>
<line x1="1514.8" y1="364.9" x2="1688.0" y2="364.9" stroke="#00ff00" stroke-width="12.2" stroke-linecap="round" shape-rendering="crispEdges"/>
<line x1="1514.8" y1="485.3" x2="1688.0" y2="485.3" stroke="#0000ff" stroke-width="12.2" stroke-linecap="round" shape-rendering="crispEdges"/>
<text transform="translate(1709.75,175.00) scale(0.965,1)" font-size="79.5" font-weight="bold" letter-spacing="-1.867" text-anchor="start">Pure ZnO</text>
<text transform="translate(0,270.1) scale(0.965,1)" font-size="79.5" font-weight="bold"><tspan x="1770.36" y="-1" font-size="74.5" letter-spacing="0.383">(</tspan><tspan y="0" letter-spacing="0.383">Fe</tspan><tspan x="1886.48" y="29.5" font-size="46.3" letter-spacing="-0.238">70</tspan><tspan x="1936.53" y="0" letter-spacing="-1.689">Co</tspan><tspan x="2040.10" y="29.5" font-size="46.3" letter-spacing="-0.342">30</tspan><tspan x="2094.09" y="-1" font-size="74.5" letter-spacing="-1.655">)</tspan><tspan y="0" letter-spacing="-1.655">ZnO</tspan></text>
<text transform="translate(0,391.0) scale(0.965,1)" font-size="79.5" font-weight="bold"><tspan x="1770.36" y="-1" font-size="74.5" letter-spacing="0.383">(</tspan><tspan y="0" letter-spacing="0.383">Fe</tspan><tspan x="1885.70" y="29.5" font-size="46.3" letter-spacing="0.28">50</tspan><tspan x="1936.53" y="0" letter-spacing="-1.689">Co</tspan><tspan x="2040.10" y="29.5" font-size="46.3" letter-spacing="-0.342">50</tspan><tspan x="2094.09" y="-1" font-size="74.5" letter-spacing="-1.655">)</tspan><tspan y="0" letter-spacing="-1.655">ZnO</tspan></text>
<text transform="translate(0,511.4) scale(0.965,1)" font-size="79.5" font-weight="bold"><tspan x="1770.36" y="-1" font-size="74.5" letter-spacing="0.383">(</tspan><tspan y="0" letter-spacing="0.383">Fe</tspan><tspan x="1886.74" y="29.5" font-size="46.3" letter-spacing="-0.756">30</tspan><tspan x="1936.53" y="0" letter-spacing="-1.689">Co</tspan><tspan x="2039.84" y="29.5" font-size="46.3" letter-spacing="0.176">70</tspan><tspan x="2094.09" y="-1" font-size="74.5" letter-spacing="-1.655">)</tspan><tspan y="0" letter-spacing="-1.655">ZnO</tspan></text>
</g>
</svg>
</body></html>
